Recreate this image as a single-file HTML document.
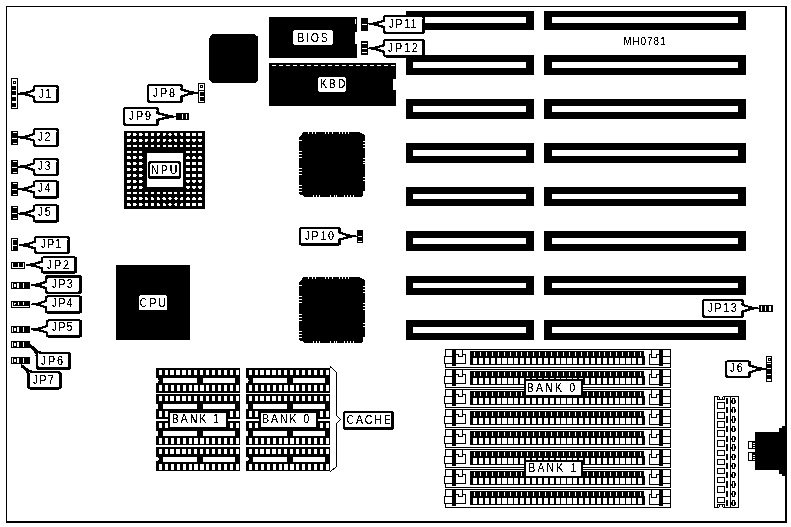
<!DOCTYPE html>
<html><head><meta charset="utf-8"><title>MH0781</title>
<style>
html,body{margin:0;padding:0;background:#fff;}
svg{display:block;font-family:"Liberation Sans",sans-serif;fill:#000;filter:grayscale(1);}
</style></head><body>
<svg width="791" height="527" viewBox="0 0 791 527">
<defs><filter id="bw" x="-5%" y="-20%" width="110%" height="140%" color-interpolation-filters="sRGB"><feComponentTransfer><feFuncA type="discrete" tableValues="0 0 1 1 1"/></feComponentTransfer></filter><filter id="bw2" filterUnits="userSpaceOnUse" x="0" y="0" width="791" height="527" color-interpolation-filters="sRGB"><feComponentTransfer><feFuncR type="discrete" tableValues="0 0 0 1 1"/><feFuncG type="discrete" tableValues="0 0 0 1 1"/><feFuncB type="discrete" tableValues="0 0 0 1 1"/><feFuncA type="discrete" tableValues="0 0 1 1 1"/></feComponentTransfer></filter></defs>
<rect x="0" y="0" width="791" height="527" fill="#fff"/>
<g filter="url(#bw2)">
<g shape-rendering="crispEdges">
<rect x="6" y="6" width="781" height="1" fill="#000" />
<rect x="6" y="6" width="1" height="517" fill="#000" />
<rect x="785" y="6" width="2" height="517" fill="#000" />
<rect x="6" y="521" width="781" height="2" fill="#000" />
<rect x="406" y="11" width="128" height="19" fill="#000" />
<rect x="413" y="17" width="113" height="6" fill="#fff" />
<rect x="544" y="11" width="202" height="19" fill="#000" />
<rect x="552" y="17" width="186" height="6" fill="#fff" />
<rect x="406" y="55" width="128" height="20" fill="#000" />
<rect x="413" y="62" width="113" height="6" fill="#fff" />
<rect x="544" y="55" width="202" height="20" fill="#000" />
<rect x="552" y="62" width="186" height="6" fill="#fff" />
<rect x="406" y="99" width="128" height="20" fill="#000" />
<rect x="413" y="106" width="113" height="6" fill="#fff" />
<rect x="544" y="99" width="202" height="20" fill="#000" />
<rect x="552" y="106" width="186" height="6" fill="#fff" />
<rect x="406" y="143" width="128" height="20" fill="#000" />
<rect x="413" y="150" width="113" height="6" fill="#fff" />
<rect x="544" y="143" width="202" height="20" fill="#000" />
<rect x="552" y="150" width="186" height="6" fill="#fff" />
<rect x="406" y="187" width="128" height="19" fill="#000" />
<rect x="413" y="194" width="113" height="5" fill="#fff" />
<rect x="544" y="187" width="202" height="19" fill="#000" />
<rect x="552" y="194" width="186" height="5" fill="#fff" />
<rect x="406" y="231" width="128" height="20" fill="#000" />
<rect x="413" y="238" width="113" height="6" fill="#fff" />
<rect x="544" y="231" width="202" height="20" fill="#000" />
<rect x="552" y="238" width="186" height="6" fill="#fff" />
<rect x="406" y="276" width="128" height="19" fill="#000" />
<rect x="413" y="283" width="113" height="5" fill="#fff" />
<rect x="544" y="276" width="202" height="19" fill="#000" />
<rect x="552" y="283" width="186" height="5" fill="#fff" />
<rect x="406" y="320" width="128" height="20" fill="#000" />
<rect x="413" y="327" width="113" height="6" fill="#fff" />
<rect x="544" y="320" width="202" height="20" fill="#000" />
<rect x="552" y="327" width="186" height="6" fill="#fff" />
<rect x="269" y="17" width="88" height="41" fill="#000" />
<rect x="355" y="31.5" width="2" height="12" fill="#fff" />
<rect x="355" y="19" width="1" height="5" fill="#fff" />
<rect x="269" y="63" width="127" height="43" fill="#000" />
<rect x="272" y="65" width="4" height="1" fill="#fff" />
<rect x="279" y="65" width="4" height="1" fill="#fff" />
<rect x="286" y="65" width="4" height="1" fill="#fff" />
<rect x="293" y="65" width="4" height="1" fill="#fff" />
<rect x="300" y="65" width="4" height="1" fill="#fff" />
<rect x="307" y="65" width="4" height="1" fill="#fff" />
<rect x="314" y="65" width="4" height="1" fill="#fff" />
<rect x="321" y="65" width="4" height="1" fill="#fff" />
<rect x="328" y="65" width="4" height="1" fill="#fff" />
<rect x="335" y="65" width="4" height="1" fill="#fff" />
<rect x="342" y="65" width="4" height="1" fill="#fff" />
<rect x="349" y="65" width="4" height="1" fill="#fff" />
<rect x="356" y="65" width="4" height="1" fill="#fff" />
<rect x="363" y="65" width="4" height="1" fill="#fff" />
<rect x="370" y="65" width="4" height="1" fill="#fff" />
<rect x="377" y="65" width="4" height="1" fill="#fff" />
<rect x="384" y="65" width="4" height="1" fill="#fff" />
<rect x="391" y="65" width="4" height="1" fill="#fff" />
</g>
<path d="M396.5 78.5 h-1.5 a2 2 0 0 0 -2 2 v8 a2 2 0 0 0 2 2 h1.5 z" fill="#fff"/>
<polygon points="212,34 254.5,34 258,37 258,80 255,83 212,83 209,79 209,38.5" fill="#000" />
<g shape-rendering="crispEdges">
<rect x="116" y="265" width="74" height="75" fill="#000" />
</g>
<polygon points="303,132 359,132 362.6,134 365,135.2 365,191 363,191 363,195 362,197 305,197 302,194.7 299,194.2 299,138 302,134.2" fill="#000" />
<g shape-rendering="crispEdges">
<rect x="308" y="132" width="1" height="2" fill="#fff" />
<rect x="311.5" y="132" width="1" height="2" fill="#fff" />
<rect x="314.6" y="132" width="1" height="2" fill="#fff" />
<rect x="325.2" y="132" width="1" height="2" fill="#fff" />
<rect x="328.4" y="132" width="1" height="2" fill="#fff" />
<rect x="331.8" y="132" width="1" height="2" fill="#fff" />
<rect x="339.3" y="132" width="1" height="2" fill="#fff" />
<rect x="342.4" y="132" width="1" height="2" fill="#fff" />
<rect x="345.4" y="132" width="1" height="2" fill="#fff" />
<rect x="348.4" y="132" width="1" height="2" fill="#fff" />
<rect x="313.3" y="195" width="1" height="2" fill="#fff" />
<rect x="316.4" y="195" width="1" height="2" fill="#fff" />
<rect x="319.3" y="195" width="1" height="2" fill="#fff" />
<rect x="330.4" y="195" width="1" height="2" fill="#fff" />
<rect x="333.5" y="195" width="1" height="2" fill="#fff" />
<rect x="336.3" y="195" width="1" height="2" fill="#fff" />
<rect x="344.4" y="195" width="1" height="2" fill="#fff" />
<rect x="347.4" y="195" width="1" height="2" fill="#fff" />
<rect x="350.4" y="195" width="1" height="2" fill="#fff" />
<rect x="353.3" y="195" width="1" height="2" fill="#fff" />
<rect x="299" y="140.3" width="3" height="1" fill="#fff" />
<rect x="299" y="150.9" width="3" height="1" fill="#fff" />
<rect x="299" y="153.9" width="3" height="1" fill="#fff" />
<rect x="299" y="156.9" width="3" height="1" fill="#fff" />
<rect x="299" y="168.2" width="3" height="1" fill="#fff" />
<rect x="299" y="171.2" width="3" height="1" fill="#fff" />
<rect x="299" y="174.2" width="3" height="1" fill="#fff" />
<rect x="299" y="185.1" width="3" height="1" fill="#fff" />
<rect x="299" y="188.1" width="3" height="1" fill="#fff" />
<rect x="299" y="191.1" width="3" height="1" fill="#fff" />
<rect x="362.6" y="140.8" width="2.4" height="1" fill="#fff" />
<rect x="362.6" y="143.8" width="2.4" height="1" fill="#fff" />
<rect x="362.6" y="146.5" width="2.4" height="1" fill="#fff" />
<rect x="362.6" y="157.5" width="2.4" height="1" fill="#fff" />
<rect x="362.6" y="160.5" width="2.4" height="1" fill="#fff" />
<rect x="362.6" y="163.3" width="2.4" height="1" fill="#fff" />
<rect x="362.6" y="177.3" width="2.4" height="1" fill="#fff" />
<rect x="362.6" y="180.2" width="2.4" height="1" fill="#fff" />
</g>
<polygon points="303,277 359,277 362.6,279 365,280.2 365,337 363,337 363,341 362,343 305,343 302,340.7 299,340.2 299,283 302,279.2" fill="#000" />
<g shape-rendering="crispEdges">
<rect x="308" y="277" width="1" height="2" fill="#fff" />
<rect x="311.5" y="277" width="1" height="2" fill="#fff" />
<rect x="314.6" y="277" width="1" height="2" fill="#fff" />
<rect x="325.2" y="277" width="1" height="2" fill="#fff" />
<rect x="328.4" y="277" width="1" height="2" fill="#fff" />
<rect x="331.8" y="277" width="1" height="2" fill="#fff" />
<rect x="339.3" y="277" width="1" height="2" fill="#fff" />
<rect x="342.4" y="277" width="1" height="2" fill="#fff" />
<rect x="345.4" y="277" width="1" height="2" fill="#fff" />
<rect x="348.4" y="277" width="1" height="2" fill="#fff" />
<rect x="313.3" y="341" width="1" height="2" fill="#fff" />
<rect x="316.4" y="341" width="1" height="2" fill="#fff" />
<rect x="319.3" y="341" width="1" height="2" fill="#fff" />
<rect x="330.4" y="341" width="1" height="2" fill="#fff" />
<rect x="333.5" y="341" width="1" height="2" fill="#fff" />
<rect x="336.3" y="341" width="1" height="2" fill="#fff" />
<rect x="344.4" y="341" width="1" height="2" fill="#fff" />
<rect x="347.4" y="341" width="1" height="2" fill="#fff" />
<rect x="350.4" y="341" width="1" height="2" fill="#fff" />
<rect x="353.3" y="341" width="1" height="2" fill="#fff" />
<rect x="299" y="285.428" width="3" height="1" fill="#fff" />
<rect x="299" y="296.191" width="3" height="1" fill="#fff" />
<rect x="299" y="299.237" width="3" height="1" fill="#fff" />
<rect x="299" y="302.283" width="3" height="1" fill="#fff" />
<rect x="299" y="313.757" width="3" height="1" fill="#fff" />
<rect x="299" y="316.803" width="3" height="1" fill="#fff" />
<rect x="299" y="319.849" width="3" height="1" fill="#fff" />
<rect x="299" y="330.917" width="3" height="1" fill="#fff" />
<rect x="299" y="333.963" width="3" height="1" fill="#fff" />
<rect x="299" y="337.009" width="3" height="1" fill="#fff" />
<rect x="362.6" y="285.935" width="2.4" height="1" fill="#fff" />
<rect x="362.6" y="288.982" width="2.4" height="1" fill="#fff" />
<rect x="362.6" y="291.723" width="2.4" height="1" fill="#fff" />
<rect x="362.6" y="302.892" width="2.4" height="1" fill="#fff" />
<rect x="362.6" y="305.938" width="2.4" height="1" fill="#fff" />
<rect x="362.6" y="308.782" width="2.4" height="1" fill="#fff" />
<rect x="362.6" y="322.997" width="2.4" height="1" fill="#fff" />
<rect x="362.6" y="325.942" width="2.4" height="1" fill="#fff" />
</g>
<g shape-rendering="crispEdges">
<rect x="124" y="131" width="81" height="78" fill="#000" />
<rect x="147" y="153" width="35.5" height="34" fill="#fff" />
</g>
<g fill="#fff">
<rect x="126.85" y="132.80" width="3.9" height="3.1" rx="1"/>
<rect x="132.78" y="132.80" width="3.9" height="3.1" rx="1"/>
<rect x="138.71" y="132.80" width="3.9" height="3.1" rx="1"/>
<rect x="144.64" y="132.80" width="3.3" height="3.1" rx="1"/>
<rect x="150.57" y="132.80" width="3.3" height="3.1" rx="1"/>
<rect x="156.50" y="132.80" width="3.3" height="3.1" rx="1"/>
<rect x="162.43" y="132.80" width="3.3" height="3.1" rx="1"/>
<rect x="168.36" y="132.80" width="3.3" height="3.1" rx="1"/>
<rect x="174.29" y="132.80" width="3.3" height="3.1" rx="1"/>
<rect x="180.22" y="132.80" width="3.3" height="3.1" rx="1"/>
<rect x="186.15" y="132.80" width="3.9" height="3.1" rx="1"/>
<rect x="192.08" y="132.80" width="3.9" height="3.1" rx="1"/>
<rect x="198.01" y="132.80" width="3.9" height="3.1" rx="1"/>
<rect x="126.85" y="138.66" width="3.9" height="3.1" rx="1"/>
<rect x="132.78" y="138.66" width="3.9" height="3.1" rx="1"/>
<rect x="138.71" y="138.66" width="3.9" height="3.1" rx="1"/>
<rect x="144.64" y="138.66" width="3.3" height="3.1" rx="1"/>
<rect x="150.57" y="138.66" width="3.3" height="3.1" rx="1"/>
<rect x="156.50" y="138.66" width="3.3" height="3.1" rx="1"/>
<rect x="162.43" y="138.66" width="3.3" height="3.1" rx="1"/>
<rect x="168.36" y="138.66" width="3.3" height="3.1" rx="1"/>
<rect x="174.29" y="138.66" width="3.3" height="3.1" rx="1"/>
<rect x="180.22" y="138.66" width="3.3" height="3.1" rx="1"/>
<rect x="186.15" y="138.66" width="3.9" height="3.1" rx="1"/>
<rect x="192.08" y="138.66" width="3.9" height="3.1" rx="1"/>
<rect x="198.01" y="138.66" width="3.9" height="3.1" rx="1"/>
<rect x="126.85" y="144.52" width="3.9" height="3.1" rx="1"/>
<rect x="132.78" y="144.52" width="3.9" height="3.1" rx="1"/>
<rect x="138.71" y="144.52" width="3.9" height="3.1" rx="1"/>
<rect x="144.64" y="144.52" width="3.3" height="3.1" rx="1"/>
<rect x="150.57" y="144.52" width="3.3" height="3.1" rx="1"/>
<rect x="156.50" y="144.52" width="3.3" height="3.1" rx="1"/>
<rect x="162.43" y="144.52" width="3.3" height="3.1" rx="1"/>
<rect x="168.36" y="144.52" width="3.3" height="3.1" rx="1"/>
<rect x="174.29" y="144.52" width="3.3" height="3.1" rx="1"/>
<rect x="180.22" y="144.52" width="3.3" height="3.1" rx="1"/>
<rect x="186.15" y="144.52" width="3.9" height="3.1" rx="1"/>
<rect x="192.08" y="144.52" width="3.9" height="3.1" rx="1"/>
<rect x="198.01" y="144.52" width="3.9" height="3.1" rx="1"/>
<rect x="126.85" y="150.38" width="3.9" height="3.1" rx="1"/>
<rect x="132.78" y="150.38" width="3.9" height="3.1" rx="1"/>
<rect x="138.71" y="150.38" width="3.9" height="3.1" rx="1"/>
<rect x="186.15" y="150.38" width="3.9" height="3.1" rx="1"/>
<rect x="192.08" y="150.38" width="3.9" height="3.1" rx="1"/>
<rect x="198.01" y="150.38" width="3.9" height="3.1" rx="1"/>
<rect x="126.85" y="156.24" width="3.9" height="3.1" rx="1"/>
<rect x="132.78" y="156.24" width="3.9" height="3.1" rx="1"/>
<rect x="138.71" y="156.24" width="3.9" height="3.1" rx="1"/>
<rect x="186.15" y="156.24" width="3.9" height="3.1" rx="1"/>
<rect x="192.08" y="156.24" width="3.9" height="3.1" rx="1"/>
<rect x="198.01" y="156.24" width="3.9" height="3.1" rx="1"/>
<rect x="126.85" y="162.10" width="3.9" height="3.1" rx="1"/>
<rect x="132.78" y="162.10" width="3.9" height="3.1" rx="1"/>
<rect x="138.71" y="162.10" width="3.9" height="3.1" rx="1"/>
<rect x="186.15" y="162.10" width="3.9" height="3.1" rx="1"/>
<rect x="192.08" y="162.10" width="3.9" height="3.1" rx="1"/>
<rect x="198.01" y="162.10" width="3.9" height="3.1" rx="1"/>
<rect x="126.85" y="167.96" width="3.9" height="3.1" rx="1"/>
<rect x="132.78" y="167.96" width="3.9" height="3.1" rx="1"/>
<rect x="138.71" y="167.96" width="3.9" height="3.1" rx="1"/>
<rect x="186.15" y="167.96" width="3.9" height="3.1" rx="1"/>
<rect x="192.08" y="167.96" width="3.9" height="3.1" rx="1"/>
<rect x="198.01" y="167.96" width="3.9" height="3.1" rx="1"/>
<rect x="126.85" y="173.82" width="3.9" height="3.1" rx="1"/>
<rect x="132.78" y="173.82" width="3.9" height="3.1" rx="1"/>
<rect x="138.71" y="173.82" width="3.9" height="3.1" rx="1"/>
<rect x="186.15" y="173.82" width="3.9" height="3.1" rx="1"/>
<rect x="192.08" y="173.82" width="3.9" height="3.1" rx="1"/>
<rect x="198.01" y="173.82" width="3.9" height="3.1" rx="1"/>
<rect x="126.85" y="179.68" width="3.9" height="3.1" rx="1"/>
<rect x="132.78" y="179.68" width="3.9" height="3.1" rx="1"/>
<rect x="138.71" y="179.68" width="3.9" height="3.1" rx="1"/>
<rect x="186.15" y="179.68" width="3.9" height="3.1" rx="1"/>
<rect x="192.08" y="179.68" width="3.9" height="3.1" rx="1"/>
<rect x="198.01" y="179.68" width="3.9" height="3.1" rx="1"/>
<rect x="126.85" y="185.54" width="3.9" height="3.1" rx="1"/>
<rect x="132.78" y="185.54" width="3.9" height="3.1" rx="1"/>
<rect x="138.71" y="185.54" width="3.9" height="3.1" rx="1"/>
<rect x="186.15" y="185.54" width="3.9" height="3.1" rx="1"/>
<rect x="192.08" y="185.54" width="3.9" height="3.1" rx="1"/>
<rect x="198.01" y="185.54" width="3.9" height="3.1" rx="1"/>
<rect x="126.85" y="191.40" width="3.9" height="3.1" rx="1"/>
<rect x="132.78" y="191.40" width="3.9" height="3.1" rx="1"/>
<rect x="138.71" y="191.40" width="3.9" height="3.1" rx="1"/>
<rect x="144.64" y="191.40" width="3.3" height="3.1" rx="1"/>
<rect x="150.57" y="191.40" width="3.3" height="3.1" rx="1"/>
<rect x="156.50" y="191.40" width="3.3" height="3.1" rx="1"/>
<rect x="162.43" y="191.40" width="3.3" height="3.1" rx="1"/>
<rect x="168.36" y="191.40" width="3.3" height="3.1" rx="1"/>
<rect x="174.29" y="191.40" width="3.3" height="3.1" rx="1"/>
<rect x="180.22" y="191.40" width="3.3" height="3.1" rx="1"/>
<rect x="186.15" y="191.40" width="3.9" height="3.1" rx="1"/>
<rect x="192.08" y="191.40" width="3.9" height="3.1" rx="1"/>
<rect x="198.01" y="191.40" width="3.9" height="3.1" rx="1"/>
<rect x="126.85" y="197.26" width="3.9" height="3.1" rx="1"/>
<rect x="132.78" y="197.26" width="3.9" height="3.1" rx="1"/>
<rect x="138.71" y="197.26" width="3.9" height="3.1" rx="1"/>
<rect x="144.64" y="197.26" width="3.3" height="3.1" rx="1"/>
<rect x="150.57" y="197.26" width="3.3" height="3.1" rx="1"/>
<rect x="156.50" y="197.26" width="3.3" height="3.1" rx="1"/>
<rect x="162.43" y="197.26" width="3.3" height="3.1" rx="1"/>
<rect x="168.36" y="197.26" width="3.3" height="3.1" rx="1"/>
<rect x="174.29" y="197.26" width="3.3" height="3.1" rx="1"/>
<rect x="180.22" y="197.26" width="3.3" height="3.1" rx="1"/>
<rect x="186.15" y="197.26" width="3.9" height="3.1" rx="1"/>
<rect x="192.08" y="197.26" width="3.9" height="3.1" rx="1"/>
<rect x="198.01" y="197.26" width="3.9" height="3.1" rx="1"/>
<rect x="126.85" y="203.12" width="3.9" height="3.1" rx="1"/>
<rect x="132.78" y="203.12" width="3.9" height="3.1" rx="1"/>
<rect x="138.71" y="203.12" width="3.9" height="3.1" rx="1"/>
<rect x="144.64" y="203.12" width="3.3" height="3.1" rx="1"/>
<rect x="150.57" y="203.12" width="3.3" height="3.1" rx="1"/>
<rect x="156.50" y="203.12" width="3.3" height="3.1" rx="1"/>
<rect x="162.43" y="203.12" width="3.3" height="3.1" rx="1"/>
<rect x="168.36" y="203.12" width="3.3" height="3.1" rx="1"/>
<rect x="174.29" y="203.12" width="3.3" height="3.1" rx="1"/>
<rect x="180.22" y="203.12" width="3.3" height="3.1" rx="1"/>
<rect x="186.15" y="203.12" width="3.9" height="3.1" rx="1"/>
<rect x="192.08" y="203.12" width="3.9" height="3.1" rx="1"/>
<rect x="198.01" y="203.12" width="3.9" height="3.1" rx="1"/>
</g>
<g shape-rendering="crispEdges">
<rect x="156" y="368" width="84" height="24.7" fill="#000" />
<rect x="158.6" y="370" width="3.2" height="5" fill="#fff" />
<rect x="158.9" y="385" width="3.1" height="6" fill="#fff" />
<rect x="164.53" y="370" width="3.2" height="5" fill="#fff" />
<rect x="164.83" y="385" width="3.1" height="6" fill="#fff" />
<rect x="170.46" y="370" width="3.2" height="5" fill="#fff" />
<rect x="170.76" y="385" width="3.1" height="6" fill="#fff" />
<rect x="176.39" y="370" width="3.2" height="5" fill="#fff" />
<rect x="176.69" y="385" width="3.1" height="6" fill="#fff" />
<rect x="182.32" y="370" width="3.2" height="5" fill="#fff" />
<rect x="182.62" y="385" width="3.1" height="6" fill="#fff" />
<rect x="188.25" y="370" width="3.2" height="5" fill="#fff" />
<rect x="188.55" y="385" width="3.1" height="6" fill="#fff" />
<rect x="194.18" y="370" width="3.2" height="5" fill="#fff" />
<rect x="194.48" y="385" width="3.1" height="6" fill="#fff" />
<rect x="200.11" y="370" width="3.2" height="5" fill="#fff" />
<rect x="200.41" y="385" width="3.1" height="6" fill="#fff" />
<rect x="206.04" y="370" width="3.2" height="5" fill="#fff" />
<rect x="206.34" y="385" width="3.1" height="6" fill="#fff" />
<rect x="211.97" y="370" width="3.2" height="5" fill="#fff" />
<rect x="212.27" y="385" width="3.1" height="6" fill="#fff" />
<rect x="217.9" y="370" width="3.2" height="5" fill="#fff" />
<rect x="218.2" y="385" width="3.1" height="6" fill="#fff" />
<rect x="223.83" y="370" width="3.2" height="5" fill="#fff" />
<rect x="224.13" y="385" width="3.1" height="6" fill="#fff" />
<rect x="229.76" y="370" width="3.2" height="5" fill="#fff" />
<rect x="230.06" y="385" width="3.1" height="6" fill="#fff" />
<rect x="235.69" y="370" width="3.2" height="5" fill="#fff" />
<rect x="235.99" y="385" width="3.1" height="6" fill="#fff" />
<rect x="163" y="378" width="34" height="5" fill="#fff" />
<rect x="203" y="378" width="32" height="5" fill="#fff" />
</g>
<path d="M155.8 378 h1.5 a1.3 1.3 0 0 1 1.3 1.3 v2.4 a1.3 1.3 0 0 1 -1.3 1.3 h-1.5 z" fill="#fff"/>
<g shape-rendering="crispEdges">
<rect x="156" y="394.3" width="84" height="24.7" fill="#000" />
<rect x="158.6" y="396.3" width="3.2" height="5" fill="#fff" />
<rect x="158.9" y="411.3" width="3.1" height="6" fill="#fff" />
<rect x="164.53" y="396.3" width="3.2" height="5" fill="#fff" />
<rect x="164.83" y="411.3" width="3.1" height="6" fill="#fff" />
<rect x="170.46" y="396.3" width="3.2" height="5" fill="#fff" />
<rect x="170.76" y="411.3" width="3.1" height="6" fill="#fff" />
<rect x="176.39" y="396.3" width="3.2" height="5" fill="#fff" />
<rect x="176.69" y="411.3" width="3.1" height="6" fill="#fff" />
<rect x="182.32" y="396.3" width="3.2" height="5" fill="#fff" />
<rect x="182.62" y="411.3" width="3.1" height="6" fill="#fff" />
<rect x="188.25" y="396.3" width="3.2" height="5" fill="#fff" />
<rect x="188.55" y="411.3" width="3.1" height="6" fill="#fff" />
<rect x="194.18" y="396.3" width="3.2" height="5" fill="#fff" />
<rect x="194.48" y="411.3" width="3.1" height="6" fill="#fff" />
<rect x="200.11" y="396.3" width="3.2" height="5" fill="#fff" />
<rect x="200.41" y="411.3" width="3.1" height="6" fill="#fff" />
<rect x="206.04" y="396.3" width="3.2" height="5" fill="#fff" />
<rect x="206.34" y="411.3" width="3.1" height="6" fill="#fff" />
<rect x="211.97" y="396.3" width="3.2" height="5" fill="#fff" />
<rect x="212.27" y="411.3" width="3.1" height="6" fill="#fff" />
<rect x="217.9" y="396.3" width="3.2" height="5" fill="#fff" />
<rect x="218.2" y="411.3" width="3.1" height="6" fill="#fff" />
<rect x="223.83" y="396.3" width="3.2" height="5" fill="#fff" />
<rect x="224.13" y="411.3" width="3.1" height="6" fill="#fff" />
<rect x="229.76" y="396.3" width="3.2" height="5" fill="#fff" />
<rect x="230.06" y="411.3" width="3.1" height="6" fill="#fff" />
<rect x="235.69" y="396.3" width="3.2" height="5" fill="#fff" />
<rect x="235.99" y="411.3" width="3.1" height="6" fill="#fff" />
<rect x="163" y="404.3" width="34" height="5" fill="#fff" />
<rect x="203" y="404.3" width="32" height="5" fill="#fff" />
</g>
<path d="M155.8 404.3 h1.5 a1.3 1.3 0 0 1 1.3 1.3 v2.4 a1.3 1.3 0 0 1 -1.3 1.3 h-1.5 z" fill="#fff"/>
<g shape-rendering="crispEdges">
<rect x="156" y="420.7" width="84" height="24.7" fill="#000" />
<rect x="158.6" y="422.7" width="3.2" height="5" fill="#fff" />
<rect x="158.9" y="437.7" width="3.1" height="6" fill="#fff" />
<rect x="164.53" y="422.7" width="3.2" height="5" fill="#fff" />
<rect x="164.83" y="437.7" width="3.1" height="6" fill="#fff" />
<rect x="170.46" y="422.7" width="3.2" height="5" fill="#fff" />
<rect x="170.76" y="437.7" width="3.1" height="6" fill="#fff" />
<rect x="176.39" y="422.7" width="3.2" height="5" fill="#fff" />
<rect x="176.69" y="437.7" width="3.1" height="6" fill="#fff" />
<rect x="182.32" y="422.7" width="3.2" height="5" fill="#fff" />
<rect x="182.62" y="437.7" width="3.1" height="6" fill="#fff" />
<rect x="188.25" y="422.7" width="3.2" height="5" fill="#fff" />
<rect x="188.55" y="437.7" width="3.1" height="6" fill="#fff" />
<rect x="194.18" y="422.7" width="3.2" height="5" fill="#fff" />
<rect x="194.48" y="437.7" width="3.1" height="6" fill="#fff" />
<rect x="200.11" y="422.7" width="3.2" height="5" fill="#fff" />
<rect x="200.41" y="437.7" width="3.1" height="6" fill="#fff" />
<rect x="206.04" y="422.7" width="3.2" height="5" fill="#fff" />
<rect x="206.34" y="437.7" width="3.1" height="6" fill="#fff" />
<rect x="211.97" y="422.7" width="3.2" height="5" fill="#fff" />
<rect x="212.27" y="437.7" width="3.1" height="6" fill="#fff" />
<rect x="217.9" y="422.7" width="3.2" height="5" fill="#fff" />
<rect x="218.2" y="437.7" width="3.1" height="6" fill="#fff" />
<rect x="223.83" y="422.7" width="3.2" height="5" fill="#fff" />
<rect x="224.13" y="437.7" width="3.1" height="6" fill="#fff" />
<rect x="229.76" y="422.7" width="3.2" height="5" fill="#fff" />
<rect x="230.06" y="437.7" width="3.1" height="6" fill="#fff" />
<rect x="235.69" y="422.7" width="3.2" height="5" fill="#fff" />
<rect x="235.99" y="437.7" width="3.1" height="6" fill="#fff" />
<rect x="163" y="430.7" width="34" height="5" fill="#fff" />
<rect x="203" y="430.7" width="32" height="5" fill="#fff" />
</g>
<path d="M155.8 430.7 h1.5 a1.3 1.3 0 0 1 1.3 1.3 v2.4 a1.3 1.3 0 0 1 -1.3 1.3 h-1.5 z" fill="#fff"/>
<g shape-rendering="crispEdges">
<rect x="156" y="446.6" width="84" height="24.7" fill="#000" />
<rect x="158.6" y="448.6" width="3.2" height="5" fill="#fff" />
<rect x="158.9" y="463.6" width="3.1" height="6" fill="#fff" />
<rect x="164.53" y="448.6" width="3.2" height="5" fill="#fff" />
<rect x="164.83" y="463.6" width="3.1" height="6" fill="#fff" />
<rect x="170.46" y="448.6" width="3.2" height="5" fill="#fff" />
<rect x="170.76" y="463.6" width="3.1" height="6" fill="#fff" />
<rect x="176.39" y="448.6" width="3.2" height="5" fill="#fff" />
<rect x="176.69" y="463.6" width="3.1" height="6" fill="#fff" />
<rect x="182.32" y="448.6" width="3.2" height="5" fill="#fff" />
<rect x="182.62" y="463.6" width="3.1" height="6" fill="#fff" />
<rect x="188.25" y="448.6" width="3.2" height="5" fill="#fff" />
<rect x="188.55" y="463.6" width="3.1" height="6" fill="#fff" />
<rect x="194.18" y="448.6" width="3.2" height="5" fill="#fff" />
<rect x="194.48" y="463.6" width="3.1" height="6" fill="#fff" />
<rect x="200.11" y="448.6" width="3.2" height="5" fill="#fff" />
<rect x="200.41" y="463.6" width="3.1" height="6" fill="#fff" />
<rect x="206.04" y="448.6" width="3.2" height="5" fill="#fff" />
<rect x="206.34" y="463.6" width="3.1" height="6" fill="#fff" />
<rect x="211.97" y="448.6" width="3.2" height="5" fill="#fff" />
<rect x="212.27" y="463.6" width="3.1" height="6" fill="#fff" />
<rect x="217.9" y="448.6" width="3.2" height="5" fill="#fff" />
<rect x="218.2" y="463.6" width="3.1" height="6" fill="#fff" />
<rect x="223.83" y="448.6" width="3.2" height="5" fill="#fff" />
<rect x="224.13" y="463.6" width="3.1" height="6" fill="#fff" />
<rect x="229.76" y="448.6" width="3.2" height="5" fill="#fff" />
<rect x="230.06" y="463.6" width="3.1" height="6" fill="#fff" />
<rect x="235.69" y="448.6" width="3.2" height="5" fill="#fff" />
<rect x="235.99" y="463.6" width="3.1" height="6" fill="#fff" />
<rect x="163" y="456.6" width="34" height="5" fill="#fff" />
<rect x="203" y="456.6" width="32" height="5" fill="#fff" />
</g>
<path d="M155.8 456.6 h1.5 a1.3 1.3 0 0 1 1.3 1.3 v2.4 a1.3 1.3 0 0 1 -1.3 1.3 h-1.5 z" fill="#fff"/>
<g shape-rendering="crispEdges">
<rect x="246" y="368" width="84" height="24.7" fill="#000" />
<rect x="248.6" y="370" width="3.2" height="5" fill="#fff" />
<rect x="248.9" y="385" width="3.1" height="6" fill="#fff" />
<rect x="254.53" y="370" width="3.2" height="5" fill="#fff" />
<rect x="254.83" y="385" width="3.1" height="6" fill="#fff" />
<rect x="260.46" y="370" width="3.2" height="5" fill="#fff" />
<rect x="260.76" y="385" width="3.1" height="6" fill="#fff" />
<rect x="266.39" y="370" width="3.2" height="5" fill="#fff" />
<rect x="266.69" y="385" width="3.1" height="6" fill="#fff" />
<rect x="272.32" y="370" width="3.2" height="5" fill="#fff" />
<rect x="272.62" y="385" width="3.1" height="6" fill="#fff" />
<rect x="278.25" y="370" width="3.2" height="5" fill="#fff" />
<rect x="278.55" y="385" width="3.1" height="6" fill="#fff" />
<rect x="284.18" y="370" width="3.2" height="5" fill="#fff" />
<rect x="284.48" y="385" width="3.1" height="6" fill="#fff" />
<rect x="290.11" y="370" width="3.2" height="5" fill="#fff" />
<rect x="290.41" y="385" width="3.1" height="6" fill="#fff" />
<rect x="296.04" y="370" width="3.2" height="5" fill="#fff" />
<rect x="296.34" y="385" width="3.1" height="6" fill="#fff" />
<rect x="301.97" y="370" width="3.2" height="5" fill="#fff" />
<rect x="302.27" y="385" width="3.1" height="6" fill="#fff" />
<rect x="307.9" y="370" width="3.2" height="5" fill="#fff" />
<rect x="308.2" y="385" width="3.1" height="6" fill="#fff" />
<rect x="313.83" y="370" width="3.2" height="5" fill="#fff" />
<rect x="314.13" y="385" width="3.1" height="6" fill="#fff" />
<rect x="319.76" y="370" width="3.2" height="5" fill="#fff" />
<rect x="320.06" y="385" width="3.1" height="6" fill="#fff" />
<rect x="325.69" y="370" width="3.2" height="5" fill="#fff" />
<rect x="325.99" y="385" width="3.1" height="6" fill="#fff" />
<rect x="253" y="378" width="34" height="5" fill="#fff" />
<rect x="293" y="378" width="32" height="5" fill="#fff" />
</g>
<path d="M245.8 378 h1.5 a1.3 1.3 0 0 1 1.3 1.3 v2.4 a1.3 1.3 0 0 1 -1.3 1.3 h-1.5 z" fill="#fff"/>
<g shape-rendering="crispEdges">
<rect x="246" y="394.3" width="84" height="24.7" fill="#000" />
<rect x="248.6" y="396.3" width="3.2" height="5" fill="#fff" />
<rect x="248.9" y="411.3" width="3.1" height="6" fill="#fff" />
<rect x="254.53" y="396.3" width="3.2" height="5" fill="#fff" />
<rect x="254.83" y="411.3" width="3.1" height="6" fill="#fff" />
<rect x="260.46" y="396.3" width="3.2" height="5" fill="#fff" />
<rect x="260.76" y="411.3" width="3.1" height="6" fill="#fff" />
<rect x="266.39" y="396.3" width="3.2" height="5" fill="#fff" />
<rect x="266.69" y="411.3" width="3.1" height="6" fill="#fff" />
<rect x="272.32" y="396.3" width="3.2" height="5" fill="#fff" />
<rect x="272.62" y="411.3" width="3.1" height="6" fill="#fff" />
<rect x="278.25" y="396.3" width="3.2" height="5" fill="#fff" />
<rect x="278.55" y="411.3" width="3.1" height="6" fill="#fff" />
<rect x="284.18" y="396.3" width="3.2" height="5" fill="#fff" />
<rect x="284.48" y="411.3" width="3.1" height="6" fill="#fff" />
<rect x="290.11" y="396.3" width="3.2" height="5" fill="#fff" />
<rect x="290.41" y="411.3" width="3.1" height="6" fill="#fff" />
<rect x="296.04" y="396.3" width="3.2" height="5" fill="#fff" />
<rect x="296.34" y="411.3" width="3.1" height="6" fill="#fff" />
<rect x="301.97" y="396.3" width="3.2" height="5" fill="#fff" />
<rect x="302.27" y="411.3" width="3.1" height="6" fill="#fff" />
<rect x="307.9" y="396.3" width="3.2" height="5" fill="#fff" />
<rect x="308.2" y="411.3" width="3.1" height="6" fill="#fff" />
<rect x="313.83" y="396.3" width="3.2" height="5" fill="#fff" />
<rect x="314.13" y="411.3" width="3.1" height="6" fill="#fff" />
<rect x="319.76" y="396.3" width="3.2" height="5" fill="#fff" />
<rect x="320.06" y="411.3" width="3.1" height="6" fill="#fff" />
<rect x="325.69" y="396.3" width="3.2" height="5" fill="#fff" />
<rect x="325.99" y="411.3" width="3.1" height="6" fill="#fff" />
<rect x="253" y="404.3" width="34" height="5" fill="#fff" />
<rect x="293" y="404.3" width="32" height="5" fill="#fff" />
</g>
<path d="M245.8 404.3 h1.5 a1.3 1.3 0 0 1 1.3 1.3 v2.4 a1.3 1.3 0 0 1 -1.3 1.3 h-1.5 z" fill="#fff"/>
<g shape-rendering="crispEdges">
<rect x="246" y="420.7" width="84" height="24.7" fill="#000" />
<rect x="248.6" y="422.7" width="3.2" height="5" fill="#fff" />
<rect x="248.9" y="437.7" width="3.1" height="6" fill="#fff" />
<rect x="254.53" y="422.7" width="3.2" height="5" fill="#fff" />
<rect x="254.83" y="437.7" width="3.1" height="6" fill="#fff" />
<rect x="260.46" y="422.7" width="3.2" height="5" fill="#fff" />
<rect x="260.76" y="437.7" width="3.1" height="6" fill="#fff" />
<rect x="266.39" y="422.7" width="3.2" height="5" fill="#fff" />
<rect x="266.69" y="437.7" width="3.1" height="6" fill="#fff" />
<rect x="272.32" y="422.7" width="3.2" height="5" fill="#fff" />
<rect x="272.62" y="437.7" width="3.1" height="6" fill="#fff" />
<rect x="278.25" y="422.7" width="3.2" height="5" fill="#fff" />
<rect x="278.55" y="437.7" width="3.1" height="6" fill="#fff" />
<rect x="284.18" y="422.7" width="3.2" height="5" fill="#fff" />
<rect x="284.48" y="437.7" width="3.1" height="6" fill="#fff" />
<rect x="290.11" y="422.7" width="3.2" height="5" fill="#fff" />
<rect x="290.41" y="437.7" width="3.1" height="6" fill="#fff" />
<rect x="296.04" y="422.7" width="3.2" height="5" fill="#fff" />
<rect x="296.34" y="437.7" width="3.1" height="6" fill="#fff" />
<rect x="301.97" y="422.7" width="3.2" height="5" fill="#fff" />
<rect x="302.27" y="437.7" width="3.1" height="6" fill="#fff" />
<rect x="307.9" y="422.7" width="3.2" height="5" fill="#fff" />
<rect x="308.2" y="437.7" width="3.1" height="6" fill="#fff" />
<rect x="313.83" y="422.7" width="3.2" height="5" fill="#fff" />
<rect x="314.13" y="437.7" width="3.1" height="6" fill="#fff" />
<rect x="319.76" y="422.7" width="3.2" height="5" fill="#fff" />
<rect x="320.06" y="437.7" width="3.1" height="6" fill="#fff" />
<rect x="325.69" y="422.7" width="3.2" height="5" fill="#fff" />
<rect x="325.99" y="437.7" width="3.1" height="6" fill="#fff" />
<rect x="253" y="430.7" width="34" height="5" fill="#fff" />
<rect x="293" y="430.7" width="32" height="5" fill="#fff" />
</g>
<path d="M245.8 430.7 h1.5 a1.3 1.3 0 0 1 1.3 1.3 v2.4 a1.3 1.3 0 0 1 -1.3 1.3 h-1.5 z" fill="#fff"/>
<g shape-rendering="crispEdges">
<rect x="246" y="446.6" width="84" height="24.7" fill="#000" />
<rect x="248.6" y="448.6" width="3.2" height="5" fill="#fff" />
<rect x="248.9" y="463.6" width="3.1" height="6" fill="#fff" />
<rect x="254.53" y="448.6" width="3.2" height="5" fill="#fff" />
<rect x="254.83" y="463.6" width="3.1" height="6" fill="#fff" />
<rect x="260.46" y="448.6" width="3.2" height="5" fill="#fff" />
<rect x="260.76" y="463.6" width="3.1" height="6" fill="#fff" />
<rect x="266.39" y="448.6" width="3.2" height="5" fill="#fff" />
<rect x="266.69" y="463.6" width="3.1" height="6" fill="#fff" />
<rect x="272.32" y="448.6" width="3.2" height="5" fill="#fff" />
<rect x="272.62" y="463.6" width="3.1" height="6" fill="#fff" />
<rect x="278.25" y="448.6" width="3.2" height="5" fill="#fff" />
<rect x="278.55" y="463.6" width="3.1" height="6" fill="#fff" />
<rect x="284.18" y="448.6" width="3.2" height="5" fill="#fff" />
<rect x="284.48" y="463.6" width="3.1" height="6" fill="#fff" />
<rect x="290.11" y="448.6" width="3.2" height="5" fill="#fff" />
<rect x="290.41" y="463.6" width="3.1" height="6" fill="#fff" />
<rect x="296.04" y="448.6" width="3.2" height="5" fill="#fff" />
<rect x="296.34" y="463.6" width="3.1" height="6" fill="#fff" />
<rect x="301.97" y="448.6" width="3.2" height="5" fill="#fff" />
<rect x="302.27" y="463.6" width="3.1" height="6" fill="#fff" />
<rect x="307.9" y="448.6" width="3.2" height="5" fill="#fff" />
<rect x="308.2" y="463.6" width="3.1" height="6" fill="#fff" />
<rect x="313.83" y="448.6" width="3.2" height="5" fill="#fff" />
<rect x="314.13" y="463.6" width="3.1" height="6" fill="#fff" />
<rect x="319.76" y="448.6" width="3.2" height="5" fill="#fff" />
<rect x="320.06" y="463.6" width="3.1" height="6" fill="#fff" />
<rect x="325.69" y="448.6" width="3.2" height="5" fill="#fff" />
<rect x="325.99" y="463.6" width="3.1" height="6" fill="#fff" />
<rect x="253" y="456.6" width="34" height="5" fill="#fff" />
<rect x="293" y="456.6" width="32" height="5" fill="#fff" />
</g>
<path d="M245.8 456.6 h1.5 a1.3 1.3 0 0 1 1.3 1.3 v2.4 a1.3 1.3 0 0 1 -1.3 1.3 h-1.5 z" fill="#fff"/>
<g shape-rendering="crispEdges">
<rect x="445" y="349" width="226" height="18.7" fill="#000" />
<rect x="446" y="350.2" width="224" height="16.4" fill="#fff" />
<rect x="444" y="355.8" width="8.2" height="8" fill="#000" />
<rect x="445" y="357" width="7.2" height="5.8" fill="#fff" />
<rect x="452" y="349" width="3.8" height="16.8" fill="#000" />
<rect x="455.8" y="354" width="10.1" height="9.8" fill="#000" />
<rect x="455.8" y="355.2" width="9" height="7.5" fill="#fff" />
<rect x="462" y="349" width="1.2" height="7.9" fill="#000" />
<rect x="459.2" y="353.8" width="2.8" height="1.6" fill="#fff" />
<rect x="458.2" y="354" width="1" height="2.9" fill="#000" />
<rect x="458.2" y="355.9" width="5" height="1" fill="#000" />
<rect x="470" y="351" width="174" height="5" fill="#000" />
<rect x="470" y="356" width="175" height="8.7" fill="#000" />
<rect x="474" y="352" width="1" height="4" fill="#fff" />
<rect x="472.9" y="358.2" width="4.2" height="5.8" fill="#fff" />
<rect x="479.93" y="352" width="1" height="4" fill="#fff" />
<rect x="478.8" y="358.2" width="4.2" height="5.8" fill="#fff" />
<rect x="485.86" y="352" width="1" height="4" fill="#fff" />
<rect x="484.7" y="358.2" width="4.2" height="5.8" fill="#fff" />
<rect x="491.79" y="352" width="1" height="4" fill="#fff" />
<rect x="490.6" y="358.2" width="4.2" height="5.8" fill="#fff" />
<rect x="497.72" y="352" width="1" height="4" fill="#fff" />
<rect x="496.5" y="358.2" width="4.2" height="5.8" fill="#fff" />
<rect x="503.65" y="352" width="1" height="4" fill="#fff" />
<rect x="502.4" y="358.2" width="4.2" height="5.8" fill="#fff" />
<rect x="509.58" y="352" width="1" height="4" fill="#fff" />
<rect x="508.3" y="358.2" width="4.2" height="5.8" fill="#fff" />
<rect x="515.51" y="352" width="1" height="4" fill="#fff" />
<rect x="514.2" y="358.2" width="4.2" height="5.8" fill="#fff" />
<rect x="521.44" y="352" width="1" height="4" fill="#fff" />
<rect x="520.1" y="358.2" width="4.2" height="5.8" fill="#fff" />
<rect x="527.37" y="352" width="1" height="4" fill="#fff" />
<rect x="526" y="358.2" width="4.2" height="5.8" fill="#fff" />
<rect x="533.3" y="352" width="1" height="4" fill="#fff" />
<rect x="531.9" y="358.2" width="4.2" height="5.8" fill="#fff" />
<rect x="539.23" y="352" width="1" height="4" fill="#fff" />
<rect x="537.8" y="358.2" width="4.2" height="5.8" fill="#fff" />
<rect x="545.16" y="352" width="1" height="4" fill="#fff" />
<rect x="543.7" y="358.2" width="4.2" height="5.8" fill="#fff" />
<rect x="551.09" y="352" width="1" height="4" fill="#fff" />
<rect x="549.6" y="358.2" width="4.2" height="5.8" fill="#fff" />
<rect x="557.02" y="352" width="1" height="4" fill="#fff" />
<rect x="555.5" y="358.2" width="4.2" height="5.8" fill="#fff" />
<rect x="562.95" y="352" width="1" height="4" fill="#fff" />
<rect x="561.4" y="358.2" width="4.2" height="5.8" fill="#fff" />
<rect x="568.88" y="352" width="1" height="4" fill="#fff" />
<rect x="567.3" y="358.2" width="4.2" height="5.8" fill="#fff" />
<rect x="574.81" y="352" width="1" height="4" fill="#fff" />
<rect x="573.2" y="358.2" width="4.2" height="5.8" fill="#fff" />
<rect x="580.74" y="352" width="1" height="4" fill="#fff" />
<rect x="579.1" y="358.2" width="4.2" height="5.8" fill="#fff" />
<rect x="586.67" y="352" width="1" height="4" fill="#fff" />
<rect x="585" y="358.2" width="4.2" height="5.8" fill="#fff" />
<rect x="592.6" y="352" width="1" height="4" fill="#fff" />
<rect x="590.9" y="358.2" width="4.2" height="5.8" fill="#fff" />
<rect x="598.53" y="352" width="1" height="4" fill="#fff" />
<rect x="596.8" y="358.2" width="4.2" height="5.8" fill="#fff" />
<rect x="604.46" y="352" width="1" height="4" fill="#fff" />
<rect x="602.7" y="358.2" width="4.2" height="5.8" fill="#fff" />
<rect x="610.39" y="352" width="1" height="4" fill="#fff" />
<rect x="608.6" y="358.2" width="4.2" height="5.8" fill="#fff" />
<rect x="616.32" y="352" width="1" height="4" fill="#fff" />
<rect x="614.5" y="358.2" width="4.2" height="5.8" fill="#fff" />
<rect x="622.25" y="352" width="1" height="4" fill="#fff" />
<rect x="620.4" y="358.2" width="4.2" height="5.8" fill="#fff" />
<rect x="628.18" y="352" width="1" height="4" fill="#fff" />
<rect x="626.3" y="358.2" width="4.2" height="5.8" fill="#fff" />
<rect x="634.11" y="352" width="1" height="4" fill="#fff" />
<rect x="632.2" y="358.2" width="4.2" height="5.8" fill="#fff" />
<rect x="640.04" y="352" width="1" height="4" fill="#fff" />
<rect x="638.1" y="358.2" width="4.2" height="5.8" fill="#fff" />
<rect x="649" y="354.2" width="10.4" height="10.4" fill="#000" />
<rect x="650.1" y="355.3" width="9.3" height="8.2" fill="#fff" />
<rect x="651.3" y="349" width="1" height="8.7" fill="#000" />
<rect x="652.3" y="354" width="3.6" height="1.5" fill="#fff" />
<rect x="651.3" y="356.7" width="5.7" height="1.1" fill="#000" />
<rect x="655.9" y="354.2" width="1.1" height="3.6" fill="#000" />
<rect x="659.2" y="349" width="3.3" height="16.8" fill="#000" />
<rect x="662.5" y="355.8" width="8" height="1.1" fill="#000" />
<rect x="662.5" y="363" width="8" height="1.2" fill="#000" />
</g>
<g shape-rendering="crispEdges">
<rect x="445" y="369" width="226" height="18.7" fill="#000" />
<rect x="446" y="370.2" width="224" height="16.4" fill="#fff" />
<rect x="444" y="375.8" width="8.2" height="8" fill="#000" />
<rect x="445" y="377" width="7.2" height="5.8" fill="#fff" />
<rect x="452" y="369" width="3.8" height="16.8" fill="#000" />
<rect x="455.8" y="374" width="10.1" height="9.8" fill="#000" />
<rect x="455.8" y="375.2" width="9" height="7.5" fill="#fff" />
<rect x="462" y="369" width="1.2" height="7.9" fill="#000" />
<rect x="459.2" y="373.8" width="2.8" height="1.6" fill="#fff" />
<rect x="458.2" y="374" width="1" height="2.9" fill="#000" />
<rect x="458.2" y="375.9" width="5" height="1" fill="#000" />
<rect x="470" y="371" width="174" height="5" fill="#000" />
<rect x="470" y="376" width="175" height="8.7" fill="#000" />
<rect x="474" y="372" width="1" height="4" fill="#fff" />
<rect x="472.9" y="378.2" width="4.2" height="5.8" fill="#fff" />
<rect x="479.93" y="372" width="1" height="4" fill="#fff" />
<rect x="478.8" y="378.2" width="4.2" height="5.8" fill="#fff" />
<rect x="485.86" y="372" width="1" height="4" fill="#fff" />
<rect x="484.7" y="378.2" width="4.2" height="5.8" fill="#fff" />
<rect x="491.79" y="372" width="1" height="4" fill="#fff" />
<rect x="490.6" y="378.2" width="4.2" height="5.8" fill="#fff" />
<rect x="497.72" y="372" width="1" height="4" fill="#fff" />
<rect x="496.5" y="378.2" width="4.2" height="5.8" fill="#fff" />
<rect x="503.65" y="372" width="1" height="4" fill="#fff" />
<rect x="502.4" y="378.2" width="4.2" height="5.8" fill="#fff" />
<rect x="509.58" y="372" width="1" height="4" fill="#fff" />
<rect x="508.3" y="378.2" width="4.2" height="5.8" fill="#fff" />
<rect x="515.51" y="372" width="1" height="4" fill="#fff" />
<rect x="514.2" y="378.2" width="4.2" height="5.8" fill="#fff" />
<rect x="521.44" y="372" width="1" height="4" fill="#fff" />
<rect x="520.1" y="378.2" width="4.2" height="5.8" fill="#fff" />
<rect x="527.37" y="372" width="1" height="4" fill="#fff" />
<rect x="526" y="378.2" width="4.2" height="5.8" fill="#fff" />
<rect x="533.3" y="372" width="1" height="4" fill="#fff" />
<rect x="531.9" y="378.2" width="4.2" height="5.8" fill="#fff" />
<rect x="539.23" y="372" width="1" height="4" fill="#fff" />
<rect x="537.8" y="378.2" width="4.2" height="5.8" fill="#fff" />
<rect x="545.16" y="372" width="1" height="4" fill="#fff" />
<rect x="543.7" y="378.2" width="4.2" height="5.8" fill="#fff" />
<rect x="551.09" y="372" width="1" height="4" fill="#fff" />
<rect x="549.6" y="378.2" width="4.2" height="5.8" fill="#fff" />
<rect x="557.02" y="372" width="1" height="4" fill="#fff" />
<rect x="555.5" y="378.2" width="4.2" height="5.8" fill="#fff" />
<rect x="562.95" y="372" width="1" height="4" fill="#fff" />
<rect x="561.4" y="378.2" width="4.2" height="5.8" fill="#fff" />
<rect x="568.88" y="372" width="1" height="4" fill="#fff" />
<rect x="567.3" y="378.2" width="4.2" height="5.8" fill="#fff" />
<rect x="574.81" y="372" width="1" height="4" fill="#fff" />
<rect x="573.2" y="378.2" width="4.2" height="5.8" fill="#fff" />
<rect x="580.74" y="372" width="1" height="4" fill="#fff" />
<rect x="579.1" y="378.2" width="4.2" height="5.8" fill="#fff" />
<rect x="586.67" y="372" width="1" height="4" fill="#fff" />
<rect x="585" y="378.2" width="4.2" height="5.8" fill="#fff" />
<rect x="592.6" y="372" width="1" height="4" fill="#fff" />
<rect x="590.9" y="378.2" width="4.2" height="5.8" fill="#fff" />
<rect x="598.53" y="372" width="1" height="4" fill="#fff" />
<rect x="596.8" y="378.2" width="4.2" height="5.8" fill="#fff" />
<rect x="604.46" y="372" width="1" height="4" fill="#fff" />
<rect x="602.7" y="378.2" width="4.2" height="5.8" fill="#fff" />
<rect x="610.39" y="372" width="1" height="4" fill="#fff" />
<rect x="608.6" y="378.2" width="4.2" height="5.8" fill="#fff" />
<rect x="616.32" y="372" width="1" height="4" fill="#fff" />
<rect x="614.5" y="378.2" width="4.2" height="5.8" fill="#fff" />
<rect x="622.25" y="372" width="1" height="4" fill="#fff" />
<rect x="620.4" y="378.2" width="4.2" height="5.8" fill="#fff" />
<rect x="628.18" y="372" width="1" height="4" fill="#fff" />
<rect x="626.3" y="378.2" width="4.2" height="5.8" fill="#fff" />
<rect x="634.11" y="372" width="1" height="4" fill="#fff" />
<rect x="632.2" y="378.2" width="4.2" height="5.8" fill="#fff" />
<rect x="640.04" y="372" width="1" height="4" fill="#fff" />
<rect x="638.1" y="378.2" width="4.2" height="5.8" fill="#fff" />
<rect x="649" y="374.2" width="10.4" height="10.4" fill="#000" />
<rect x="650.1" y="375.3" width="9.3" height="8.2" fill="#fff" />
<rect x="651.3" y="369" width="1" height="8.7" fill="#000" />
<rect x="652.3" y="374" width="3.6" height="1.5" fill="#fff" />
<rect x="651.3" y="376.7" width="5.7" height="1.1" fill="#000" />
<rect x="655.9" y="374.2" width="1.1" height="3.6" fill="#000" />
<rect x="659.2" y="369" width="3.3" height="16.8" fill="#000" />
<rect x="662.5" y="375.8" width="8" height="1.1" fill="#000" />
<rect x="662.5" y="383" width="8" height="1.2" fill="#000" />
</g>
<g shape-rendering="crispEdges">
<rect x="445" y="389" width="226" height="18.7" fill="#000" />
<rect x="446" y="390.2" width="224" height="16.4" fill="#fff" />
<rect x="444" y="395.8" width="8.2" height="8" fill="#000" />
<rect x="445" y="397" width="7.2" height="5.8" fill="#fff" />
<rect x="452" y="389" width="3.8" height="16.8" fill="#000" />
<rect x="455.8" y="394" width="10.1" height="9.8" fill="#000" />
<rect x="455.8" y="395.2" width="9" height="7.5" fill="#fff" />
<rect x="462" y="389" width="1.2" height="7.9" fill="#000" />
<rect x="459.2" y="393.8" width="2.8" height="1.6" fill="#fff" />
<rect x="458.2" y="394" width="1" height="2.9" fill="#000" />
<rect x="458.2" y="395.9" width="5" height="1" fill="#000" />
<rect x="470" y="391" width="174" height="5" fill="#000" />
<rect x="470" y="396" width="175" height="8.7" fill="#000" />
<rect x="474" y="392" width="1" height="4" fill="#fff" />
<rect x="472.9" y="398.2" width="4.2" height="5.8" fill="#fff" />
<rect x="479.93" y="392" width="1" height="4" fill="#fff" />
<rect x="478.8" y="398.2" width="4.2" height="5.8" fill="#fff" />
<rect x="485.86" y="392" width="1" height="4" fill="#fff" />
<rect x="484.7" y="398.2" width="4.2" height="5.8" fill="#fff" />
<rect x="491.79" y="392" width="1" height="4" fill="#fff" />
<rect x="490.6" y="398.2" width="4.2" height="5.8" fill="#fff" />
<rect x="497.72" y="392" width="1" height="4" fill="#fff" />
<rect x="496.5" y="398.2" width="4.2" height="5.8" fill="#fff" />
<rect x="503.65" y="392" width="1" height="4" fill="#fff" />
<rect x="502.4" y="398.2" width="4.2" height="5.8" fill="#fff" />
<rect x="509.58" y="392" width="1" height="4" fill="#fff" />
<rect x="508.3" y="398.2" width="4.2" height="5.8" fill="#fff" />
<rect x="515.51" y="392" width="1" height="4" fill="#fff" />
<rect x="514.2" y="398.2" width="4.2" height="5.8" fill="#fff" />
<rect x="521.44" y="392" width="1" height="4" fill="#fff" />
<rect x="520.1" y="398.2" width="4.2" height="5.8" fill="#fff" />
<rect x="527.37" y="392" width="1" height="4" fill="#fff" />
<rect x="526" y="398.2" width="4.2" height="5.8" fill="#fff" />
<rect x="533.3" y="392" width="1" height="4" fill="#fff" />
<rect x="531.9" y="398.2" width="4.2" height="5.8" fill="#fff" />
<rect x="539.23" y="392" width="1" height="4" fill="#fff" />
<rect x="537.8" y="398.2" width="4.2" height="5.8" fill="#fff" />
<rect x="545.16" y="392" width="1" height="4" fill="#fff" />
<rect x="543.7" y="398.2" width="4.2" height="5.8" fill="#fff" />
<rect x="551.09" y="392" width="1" height="4" fill="#fff" />
<rect x="549.6" y="398.2" width="4.2" height="5.8" fill="#fff" />
<rect x="557.02" y="392" width="1" height="4" fill="#fff" />
<rect x="555.5" y="398.2" width="4.2" height="5.8" fill="#fff" />
<rect x="562.95" y="392" width="1" height="4" fill="#fff" />
<rect x="561.4" y="398.2" width="4.2" height="5.8" fill="#fff" />
<rect x="568.88" y="392" width="1" height="4" fill="#fff" />
<rect x="567.3" y="398.2" width="4.2" height="5.8" fill="#fff" />
<rect x="574.81" y="392" width="1" height="4" fill="#fff" />
<rect x="573.2" y="398.2" width="4.2" height="5.8" fill="#fff" />
<rect x="580.74" y="392" width="1" height="4" fill="#fff" />
<rect x="579.1" y="398.2" width="4.2" height="5.8" fill="#fff" />
<rect x="586.67" y="392" width="1" height="4" fill="#fff" />
<rect x="585" y="398.2" width="4.2" height="5.8" fill="#fff" />
<rect x="592.6" y="392" width="1" height="4" fill="#fff" />
<rect x="590.9" y="398.2" width="4.2" height="5.8" fill="#fff" />
<rect x="598.53" y="392" width="1" height="4" fill="#fff" />
<rect x="596.8" y="398.2" width="4.2" height="5.8" fill="#fff" />
<rect x="604.46" y="392" width="1" height="4" fill="#fff" />
<rect x="602.7" y="398.2" width="4.2" height="5.8" fill="#fff" />
<rect x="610.39" y="392" width="1" height="4" fill="#fff" />
<rect x="608.6" y="398.2" width="4.2" height="5.8" fill="#fff" />
<rect x="616.32" y="392" width="1" height="4" fill="#fff" />
<rect x="614.5" y="398.2" width="4.2" height="5.8" fill="#fff" />
<rect x="622.25" y="392" width="1" height="4" fill="#fff" />
<rect x="620.4" y="398.2" width="4.2" height="5.8" fill="#fff" />
<rect x="628.18" y="392" width="1" height="4" fill="#fff" />
<rect x="626.3" y="398.2" width="4.2" height="5.8" fill="#fff" />
<rect x="634.11" y="392" width="1" height="4" fill="#fff" />
<rect x="632.2" y="398.2" width="4.2" height="5.8" fill="#fff" />
<rect x="640.04" y="392" width="1" height="4" fill="#fff" />
<rect x="638.1" y="398.2" width="4.2" height="5.8" fill="#fff" />
<rect x="649" y="394.2" width="10.4" height="10.4" fill="#000" />
<rect x="650.1" y="395.3" width="9.3" height="8.2" fill="#fff" />
<rect x="651.3" y="389" width="1" height="8.7" fill="#000" />
<rect x="652.3" y="394" width="3.6" height="1.5" fill="#fff" />
<rect x="651.3" y="396.7" width="5.7" height="1.1" fill="#000" />
<rect x="655.9" y="394.2" width="1.1" height="3.6" fill="#000" />
<rect x="659.2" y="389" width="3.3" height="16.8" fill="#000" />
<rect x="662.5" y="395.8" width="8" height="1.1" fill="#000" />
<rect x="662.5" y="403" width="8" height="1.2" fill="#000" />
</g>
<g shape-rendering="crispEdges">
<rect x="445" y="409" width="226" height="18.7" fill="#000" />
<rect x="446" y="410.2" width="224" height="16.4" fill="#fff" />
<rect x="444" y="415.8" width="8.2" height="8" fill="#000" />
<rect x="445" y="417" width="7.2" height="5.8" fill="#fff" />
<rect x="452" y="409" width="3.8" height="16.8" fill="#000" />
<rect x="455.8" y="414" width="10.1" height="9.8" fill="#000" />
<rect x="455.8" y="415.2" width="9" height="7.5" fill="#fff" />
<rect x="462" y="409" width="1.2" height="7.9" fill="#000" />
<rect x="459.2" y="413.8" width="2.8" height="1.6" fill="#fff" />
<rect x="458.2" y="414" width="1" height="2.9" fill="#000" />
<rect x="458.2" y="415.9" width="5" height="1" fill="#000" />
<rect x="470" y="411" width="174" height="5" fill="#000" />
<rect x="470" y="416" width="175" height="8.7" fill="#000" />
<rect x="474" y="412" width="1" height="4" fill="#fff" />
<rect x="472.9" y="418.2" width="4.2" height="5.8" fill="#fff" />
<rect x="479.93" y="412" width="1" height="4" fill="#fff" />
<rect x="478.8" y="418.2" width="4.2" height="5.8" fill="#fff" />
<rect x="485.86" y="412" width="1" height="4" fill="#fff" />
<rect x="484.7" y="418.2" width="4.2" height="5.8" fill="#fff" />
<rect x="491.79" y="412" width="1" height="4" fill="#fff" />
<rect x="490.6" y="418.2" width="4.2" height="5.8" fill="#fff" />
<rect x="497.72" y="412" width="1" height="4" fill="#fff" />
<rect x="496.5" y="418.2" width="4.2" height="5.8" fill="#fff" />
<rect x="503.65" y="412" width="1" height="4" fill="#fff" />
<rect x="502.4" y="418.2" width="4.2" height="5.8" fill="#fff" />
<rect x="509.58" y="412" width="1" height="4" fill="#fff" />
<rect x="508.3" y="418.2" width="4.2" height="5.8" fill="#fff" />
<rect x="515.51" y="412" width="1" height="4" fill="#fff" />
<rect x="514.2" y="418.2" width="4.2" height="5.8" fill="#fff" />
<rect x="521.44" y="412" width="1" height="4" fill="#fff" />
<rect x="520.1" y="418.2" width="4.2" height="5.8" fill="#fff" />
<rect x="527.37" y="412" width="1" height="4" fill="#fff" />
<rect x="526" y="418.2" width="4.2" height="5.8" fill="#fff" />
<rect x="533.3" y="412" width="1" height="4" fill="#fff" />
<rect x="531.9" y="418.2" width="4.2" height="5.8" fill="#fff" />
<rect x="539.23" y="412" width="1" height="4" fill="#fff" />
<rect x="537.8" y="418.2" width="4.2" height="5.8" fill="#fff" />
<rect x="545.16" y="412" width="1" height="4" fill="#fff" />
<rect x="543.7" y="418.2" width="4.2" height="5.8" fill="#fff" />
<rect x="551.09" y="412" width="1" height="4" fill="#fff" />
<rect x="549.6" y="418.2" width="4.2" height="5.8" fill="#fff" />
<rect x="557.02" y="412" width="1" height="4" fill="#fff" />
<rect x="555.5" y="418.2" width="4.2" height="5.8" fill="#fff" />
<rect x="562.95" y="412" width="1" height="4" fill="#fff" />
<rect x="561.4" y="418.2" width="4.2" height="5.8" fill="#fff" />
<rect x="568.88" y="412" width="1" height="4" fill="#fff" />
<rect x="567.3" y="418.2" width="4.2" height="5.8" fill="#fff" />
<rect x="574.81" y="412" width="1" height="4" fill="#fff" />
<rect x="573.2" y="418.2" width="4.2" height="5.8" fill="#fff" />
<rect x="580.74" y="412" width="1" height="4" fill="#fff" />
<rect x="579.1" y="418.2" width="4.2" height="5.8" fill="#fff" />
<rect x="586.67" y="412" width="1" height="4" fill="#fff" />
<rect x="585" y="418.2" width="4.2" height="5.8" fill="#fff" />
<rect x="592.6" y="412" width="1" height="4" fill="#fff" />
<rect x="590.9" y="418.2" width="4.2" height="5.8" fill="#fff" />
<rect x="598.53" y="412" width="1" height="4" fill="#fff" />
<rect x="596.8" y="418.2" width="4.2" height="5.8" fill="#fff" />
<rect x="604.46" y="412" width="1" height="4" fill="#fff" />
<rect x="602.7" y="418.2" width="4.2" height="5.8" fill="#fff" />
<rect x="610.39" y="412" width="1" height="4" fill="#fff" />
<rect x="608.6" y="418.2" width="4.2" height="5.8" fill="#fff" />
<rect x="616.32" y="412" width="1" height="4" fill="#fff" />
<rect x="614.5" y="418.2" width="4.2" height="5.8" fill="#fff" />
<rect x="622.25" y="412" width="1" height="4" fill="#fff" />
<rect x="620.4" y="418.2" width="4.2" height="5.8" fill="#fff" />
<rect x="628.18" y="412" width="1" height="4" fill="#fff" />
<rect x="626.3" y="418.2" width="4.2" height="5.8" fill="#fff" />
<rect x="634.11" y="412" width="1" height="4" fill="#fff" />
<rect x="632.2" y="418.2" width="4.2" height="5.8" fill="#fff" />
<rect x="640.04" y="412" width="1" height="4" fill="#fff" />
<rect x="638.1" y="418.2" width="4.2" height="5.8" fill="#fff" />
<rect x="649" y="414.2" width="10.4" height="10.4" fill="#000" />
<rect x="650.1" y="415.3" width="9.3" height="8.2" fill="#fff" />
<rect x="651.3" y="409" width="1" height="8.7" fill="#000" />
<rect x="652.3" y="414" width="3.6" height="1.5" fill="#fff" />
<rect x="651.3" y="416.7" width="5.7" height="1.1" fill="#000" />
<rect x="655.9" y="414.2" width="1.1" height="3.6" fill="#000" />
<rect x="659.2" y="409" width="3.3" height="16.8" fill="#000" />
<rect x="662.5" y="415.8" width="8" height="1.1" fill="#000" />
<rect x="662.5" y="423" width="8" height="1.2" fill="#000" />
</g>
<g shape-rendering="crispEdges">
<rect x="445" y="429" width="226" height="18.7" fill="#000" />
<rect x="446" y="430.2" width="224" height="16.4" fill="#fff" />
<rect x="444" y="435.8" width="8.2" height="8" fill="#000" />
<rect x="445" y="437" width="7.2" height="5.8" fill="#fff" />
<rect x="452" y="429" width="3.8" height="16.8" fill="#000" />
<rect x="455.8" y="434" width="10.1" height="9.8" fill="#000" />
<rect x="455.8" y="435.2" width="9" height="7.5" fill="#fff" />
<rect x="462" y="429" width="1.2" height="7.9" fill="#000" />
<rect x="459.2" y="433.8" width="2.8" height="1.6" fill="#fff" />
<rect x="458.2" y="434" width="1" height="2.9" fill="#000" />
<rect x="458.2" y="435.9" width="5" height="1" fill="#000" />
<rect x="470" y="431" width="174" height="5" fill="#000" />
<rect x="470" y="436" width="175" height="8.7" fill="#000" />
<rect x="474" y="432" width="1" height="4" fill="#fff" />
<rect x="472.9" y="438.2" width="4.2" height="5.8" fill="#fff" />
<rect x="479.93" y="432" width="1" height="4" fill="#fff" />
<rect x="478.8" y="438.2" width="4.2" height="5.8" fill="#fff" />
<rect x="485.86" y="432" width="1" height="4" fill="#fff" />
<rect x="484.7" y="438.2" width="4.2" height="5.8" fill="#fff" />
<rect x="491.79" y="432" width="1" height="4" fill="#fff" />
<rect x="490.6" y="438.2" width="4.2" height="5.8" fill="#fff" />
<rect x="497.72" y="432" width="1" height="4" fill="#fff" />
<rect x="496.5" y="438.2" width="4.2" height="5.8" fill="#fff" />
<rect x="503.65" y="432" width="1" height="4" fill="#fff" />
<rect x="502.4" y="438.2" width="4.2" height="5.8" fill="#fff" />
<rect x="509.58" y="432" width="1" height="4" fill="#fff" />
<rect x="508.3" y="438.2" width="4.2" height="5.8" fill="#fff" />
<rect x="515.51" y="432" width="1" height="4" fill="#fff" />
<rect x="514.2" y="438.2" width="4.2" height="5.8" fill="#fff" />
<rect x="521.44" y="432" width="1" height="4" fill="#fff" />
<rect x="520.1" y="438.2" width="4.2" height="5.8" fill="#fff" />
<rect x="527.37" y="432" width="1" height="4" fill="#fff" />
<rect x="526" y="438.2" width="4.2" height="5.8" fill="#fff" />
<rect x="533.3" y="432" width="1" height="4" fill="#fff" />
<rect x="531.9" y="438.2" width="4.2" height="5.8" fill="#fff" />
<rect x="539.23" y="432" width="1" height="4" fill="#fff" />
<rect x="537.8" y="438.2" width="4.2" height="5.8" fill="#fff" />
<rect x="545.16" y="432" width="1" height="4" fill="#fff" />
<rect x="543.7" y="438.2" width="4.2" height="5.8" fill="#fff" />
<rect x="551.09" y="432" width="1" height="4" fill="#fff" />
<rect x="549.6" y="438.2" width="4.2" height="5.8" fill="#fff" />
<rect x="557.02" y="432" width="1" height="4" fill="#fff" />
<rect x="555.5" y="438.2" width="4.2" height="5.8" fill="#fff" />
<rect x="562.95" y="432" width="1" height="4" fill="#fff" />
<rect x="561.4" y="438.2" width="4.2" height="5.8" fill="#fff" />
<rect x="568.88" y="432" width="1" height="4" fill="#fff" />
<rect x="567.3" y="438.2" width="4.2" height="5.8" fill="#fff" />
<rect x="574.81" y="432" width="1" height="4" fill="#fff" />
<rect x="573.2" y="438.2" width="4.2" height="5.8" fill="#fff" />
<rect x="580.74" y="432" width="1" height="4" fill="#fff" />
<rect x="579.1" y="438.2" width="4.2" height="5.8" fill="#fff" />
<rect x="586.67" y="432" width="1" height="4" fill="#fff" />
<rect x="585" y="438.2" width="4.2" height="5.8" fill="#fff" />
<rect x="592.6" y="432" width="1" height="4" fill="#fff" />
<rect x="590.9" y="438.2" width="4.2" height="5.8" fill="#fff" />
<rect x="598.53" y="432" width="1" height="4" fill="#fff" />
<rect x="596.8" y="438.2" width="4.2" height="5.8" fill="#fff" />
<rect x="604.46" y="432" width="1" height="4" fill="#fff" />
<rect x="602.7" y="438.2" width="4.2" height="5.8" fill="#fff" />
<rect x="610.39" y="432" width="1" height="4" fill="#fff" />
<rect x="608.6" y="438.2" width="4.2" height="5.8" fill="#fff" />
<rect x="616.32" y="432" width="1" height="4" fill="#fff" />
<rect x="614.5" y="438.2" width="4.2" height="5.8" fill="#fff" />
<rect x="622.25" y="432" width="1" height="4" fill="#fff" />
<rect x="620.4" y="438.2" width="4.2" height="5.8" fill="#fff" />
<rect x="628.18" y="432" width="1" height="4" fill="#fff" />
<rect x="626.3" y="438.2" width="4.2" height="5.8" fill="#fff" />
<rect x="634.11" y="432" width="1" height="4" fill="#fff" />
<rect x="632.2" y="438.2" width="4.2" height="5.8" fill="#fff" />
<rect x="640.04" y="432" width="1" height="4" fill="#fff" />
<rect x="638.1" y="438.2" width="4.2" height="5.8" fill="#fff" />
<rect x="649" y="434.2" width="10.4" height="10.4" fill="#000" />
<rect x="650.1" y="435.3" width="9.3" height="8.2" fill="#fff" />
<rect x="651.3" y="429" width="1" height="8.7" fill="#000" />
<rect x="652.3" y="434" width="3.6" height="1.5" fill="#fff" />
<rect x="651.3" y="436.7" width="5.7" height="1.1" fill="#000" />
<rect x="655.9" y="434.2" width="1.1" height="3.6" fill="#000" />
<rect x="659.2" y="429" width="3.3" height="16.8" fill="#000" />
<rect x="662.5" y="435.8" width="8" height="1.1" fill="#000" />
<rect x="662.5" y="443" width="8" height="1.2" fill="#000" />
</g>
<g shape-rendering="crispEdges">
<rect x="445" y="449" width="226" height="18.7" fill="#000" />
<rect x="446" y="450.2" width="224" height="16.4" fill="#fff" />
<rect x="444" y="455.8" width="8.2" height="8" fill="#000" />
<rect x="445" y="457" width="7.2" height="5.8" fill="#fff" />
<rect x="452" y="449" width="3.8" height="16.8" fill="#000" />
<rect x="455.8" y="454" width="10.1" height="9.8" fill="#000" />
<rect x="455.8" y="455.2" width="9" height="7.5" fill="#fff" />
<rect x="462" y="449" width="1.2" height="7.9" fill="#000" />
<rect x="459.2" y="453.8" width="2.8" height="1.6" fill="#fff" />
<rect x="458.2" y="454" width="1" height="2.9" fill="#000" />
<rect x="458.2" y="455.9" width="5" height="1" fill="#000" />
<rect x="470" y="451" width="174" height="5" fill="#000" />
<rect x="470" y="456" width="175" height="8.7" fill="#000" />
<rect x="474" y="452" width="1" height="4" fill="#fff" />
<rect x="472.9" y="458.2" width="4.2" height="5.8" fill="#fff" />
<rect x="479.93" y="452" width="1" height="4" fill="#fff" />
<rect x="478.8" y="458.2" width="4.2" height="5.8" fill="#fff" />
<rect x="485.86" y="452" width="1" height="4" fill="#fff" />
<rect x="484.7" y="458.2" width="4.2" height="5.8" fill="#fff" />
<rect x="491.79" y="452" width="1" height="4" fill="#fff" />
<rect x="490.6" y="458.2" width="4.2" height="5.8" fill="#fff" />
<rect x="497.72" y="452" width="1" height="4" fill="#fff" />
<rect x="496.5" y="458.2" width="4.2" height="5.8" fill="#fff" />
<rect x="503.65" y="452" width="1" height="4" fill="#fff" />
<rect x="502.4" y="458.2" width="4.2" height="5.8" fill="#fff" />
<rect x="509.58" y="452" width="1" height="4" fill="#fff" />
<rect x="508.3" y="458.2" width="4.2" height="5.8" fill="#fff" />
<rect x="515.51" y="452" width="1" height="4" fill="#fff" />
<rect x="514.2" y="458.2" width="4.2" height="5.8" fill="#fff" />
<rect x="521.44" y="452" width="1" height="4" fill="#fff" />
<rect x="520.1" y="458.2" width="4.2" height="5.8" fill="#fff" />
<rect x="527.37" y="452" width="1" height="4" fill="#fff" />
<rect x="526" y="458.2" width="4.2" height="5.8" fill="#fff" />
<rect x="533.3" y="452" width="1" height="4" fill="#fff" />
<rect x="531.9" y="458.2" width="4.2" height="5.8" fill="#fff" />
<rect x="539.23" y="452" width="1" height="4" fill="#fff" />
<rect x="537.8" y="458.2" width="4.2" height="5.8" fill="#fff" />
<rect x="545.16" y="452" width="1" height="4" fill="#fff" />
<rect x="543.7" y="458.2" width="4.2" height="5.8" fill="#fff" />
<rect x="551.09" y="452" width="1" height="4" fill="#fff" />
<rect x="549.6" y="458.2" width="4.2" height="5.8" fill="#fff" />
<rect x="557.02" y="452" width="1" height="4" fill="#fff" />
<rect x="555.5" y="458.2" width="4.2" height="5.8" fill="#fff" />
<rect x="562.95" y="452" width="1" height="4" fill="#fff" />
<rect x="561.4" y="458.2" width="4.2" height="5.8" fill="#fff" />
<rect x="568.88" y="452" width="1" height="4" fill="#fff" />
<rect x="567.3" y="458.2" width="4.2" height="5.8" fill="#fff" />
<rect x="574.81" y="452" width="1" height="4" fill="#fff" />
<rect x="573.2" y="458.2" width="4.2" height="5.8" fill="#fff" />
<rect x="580.74" y="452" width="1" height="4" fill="#fff" />
<rect x="579.1" y="458.2" width="4.2" height="5.8" fill="#fff" />
<rect x="586.67" y="452" width="1" height="4" fill="#fff" />
<rect x="585" y="458.2" width="4.2" height="5.8" fill="#fff" />
<rect x="592.6" y="452" width="1" height="4" fill="#fff" />
<rect x="590.9" y="458.2" width="4.2" height="5.8" fill="#fff" />
<rect x="598.53" y="452" width="1" height="4" fill="#fff" />
<rect x="596.8" y="458.2" width="4.2" height="5.8" fill="#fff" />
<rect x="604.46" y="452" width="1" height="4" fill="#fff" />
<rect x="602.7" y="458.2" width="4.2" height="5.8" fill="#fff" />
<rect x="610.39" y="452" width="1" height="4" fill="#fff" />
<rect x="608.6" y="458.2" width="4.2" height="5.8" fill="#fff" />
<rect x="616.32" y="452" width="1" height="4" fill="#fff" />
<rect x="614.5" y="458.2" width="4.2" height="5.8" fill="#fff" />
<rect x="622.25" y="452" width="1" height="4" fill="#fff" />
<rect x="620.4" y="458.2" width="4.2" height="5.8" fill="#fff" />
<rect x="628.18" y="452" width="1" height="4" fill="#fff" />
<rect x="626.3" y="458.2" width="4.2" height="5.8" fill="#fff" />
<rect x="634.11" y="452" width="1" height="4" fill="#fff" />
<rect x="632.2" y="458.2" width="4.2" height="5.8" fill="#fff" />
<rect x="640.04" y="452" width="1" height="4" fill="#fff" />
<rect x="638.1" y="458.2" width="4.2" height="5.8" fill="#fff" />
<rect x="649" y="454.2" width="10.4" height="10.4" fill="#000" />
<rect x="650.1" y="455.3" width="9.3" height="8.2" fill="#fff" />
<rect x="651.3" y="449" width="1" height="8.7" fill="#000" />
<rect x="652.3" y="454" width="3.6" height="1.5" fill="#fff" />
<rect x="651.3" y="456.7" width="5.7" height="1.1" fill="#000" />
<rect x="655.9" y="454.2" width="1.1" height="3.6" fill="#000" />
<rect x="659.2" y="449" width="3.3" height="16.8" fill="#000" />
<rect x="662.5" y="455.8" width="8" height="1.1" fill="#000" />
<rect x="662.5" y="463" width="8" height="1.2" fill="#000" />
</g>
<g shape-rendering="crispEdges">
<rect x="445" y="469" width="226" height="18.7" fill="#000" />
<rect x="446" y="470.2" width="224" height="16.4" fill="#fff" />
<rect x="444" y="475.8" width="8.2" height="8" fill="#000" />
<rect x="445" y="477" width="7.2" height="5.8" fill="#fff" />
<rect x="452" y="469" width="3.8" height="16.8" fill="#000" />
<rect x="455.8" y="474" width="10.1" height="9.8" fill="#000" />
<rect x="455.8" y="475.2" width="9" height="7.5" fill="#fff" />
<rect x="462" y="469" width="1.2" height="7.9" fill="#000" />
<rect x="459.2" y="473.8" width="2.8" height="1.6" fill="#fff" />
<rect x="458.2" y="474" width="1" height="2.9" fill="#000" />
<rect x="458.2" y="475.9" width="5" height="1" fill="#000" />
<rect x="470" y="471" width="174" height="5" fill="#000" />
<rect x="470" y="476" width="175" height="8.7" fill="#000" />
<rect x="474" y="472" width="1" height="4" fill="#fff" />
<rect x="472.9" y="478.2" width="4.2" height="5.8" fill="#fff" />
<rect x="479.93" y="472" width="1" height="4" fill="#fff" />
<rect x="478.8" y="478.2" width="4.2" height="5.8" fill="#fff" />
<rect x="485.86" y="472" width="1" height="4" fill="#fff" />
<rect x="484.7" y="478.2" width="4.2" height="5.8" fill="#fff" />
<rect x="491.79" y="472" width="1" height="4" fill="#fff" />
<rect x="490.6" y="478.2" width="4.2" height="5.8" fill="#fff" />
<rect x="497.72" y="472" width="1" height="4" fill="#fff" />
<rect x="496.5" y="478.2" width="4.2" height="5.8" fill="#fff" />
<rect x="503.65" y="472" width="1" height="4" fill="#fff" />
<rect x="502.4" y="478.2" width="4.2" height="5.8" fill="#fff" />
<rect x="509.58" y="472" width="1" height="4" fill="#fff" />
<rect x="508.3" y="478.2" width="4.2" height="5.8" fill="#fff" />
<rect x="515.51" y="472" width="1" height="4" fill="#fff" />
<rect x="514.2" y="478.2" width="4.2" height="5.8" fill="#fff" />
<rect x="521.44" y="472" width="1" height="4" fill="#fff" />
<rect x="520.1" y="478.2" width="4.2" height="5.8" fill="#fff" />
<rect x="527.37" y="472" width="1" height="4" fill="#fff" />
<rect x="526" y="478.2" width="4.2" height="5.8" fill="#fff" />
<rect x="533.3" y="472" width="1" height="4" fill="#fff" />
<rect x="531.9" y="478.2" width="4.2" height="5.8" fill="#fff" />
<rect x="539.23" y="472" width="1" height="4" fill="#fff" />
<rect x="537.8" y="478.2" width="4.2" height="5.8" fill="#fff" />
<rect x="545.16" y="472" width="1" height="4" fill="#fff" />
<rect x="543.7" y="478.2" width="4.2" height="5.8" fill="#fff" />
<rect x="551.09" y="472" width="1" height="4" fill="#fff" />
<rect x="549.6" y="478.2" width="4.2" height="5.8" fill="#fff" />
<rect x="557.02" y="472" width="1" height="4" fill="#fff" />
<rect x="555.5" y="478.2" width="4.2" height="5.8" fill="#fff" />
<rect x="562.95" y="472" width="1" height="4" fill="#fff" />
<rect x="561.4" y="478.2" width="4.2" height="5.8" fill="#fff" />
<rect x="568.88" y="472" width="1" height="4" fill="#fff" />
<rect x="567.3" y="478.2" width="4.2" height="5.8" fill="#fff" />
<rect x="574.81" y="472" width="1" height="4" fill="#fff" />
<rect x="573.2" y="478.2" width="4.2" height="5.8" fill="#fff" />
<rect x="580.74" y="472" width="1" height="4" fill="#fff" />
<rect x="579.1" y="478.2" width="4.2" height="5.8" fill="#fff" />
<rect x="586.67" y="472" width="1" height="4" fill="#fff" />
<rect x="585" y="478.2" width="4.2" height="5.8" fill="#fff" />
<rect x="592.6" y="472" width="1" height="4" fill="#fff" />
<rect x="590.9" y="478.2" width="4.2" height="5.8" fill="#fff" />
<rect x="598.53" y="472" width="1" height="4" fill="#fff" />
<rect x="596.8" y="478.2" width="4.2" height="5.8" fill="#fff" />
<rect x="604.46" y="472" width="1" height="4" fill="#fff" />
<rect x="602.7" y="478.2" width="4.2" height="5.8" fill="#fff" />
<rect x="610.39" y="472" width="1" height="4" fill="#fff" />
<rect x="608.6" y="478.2" width="4.2" height="5.8" fill="#fff" />
<rect x="616.32" y="472" width="1" height="4" fill="#fff" />
<rect x="614.5" y="478.2" width="4.2" height="5.8" fill="#fff" />
<rect x="622.25" y="472" width="1" height="4" fill="#fff" />
<rect x="620.4" y="478.2" width="4.2" height="5.8" fill="#fff" />
<rect x="628.18" y="472" width="1" height="4" fill="#fff" />
<rect x="626.3" y="478.2" width="4.2" height="5.8" fill="#fff" />
<rect x="634.11" y="472" width="1" height="4" fill="#fff" />
<rect x="632.2" y="478.2" width="4.2" height="5.8" fill="#fff" />
<rect x="640.04" y="472" width="1" height="4" fill="#fff" />
<rect x="638.1" y="478.2" width="4.2" height="5.8" fill="#fff" />
<rect x="649" y="474.2" width="10.4" height="10.4" fill="#000" />
<rect x="650.1" y="475.3" width="9.3" height="8.2" fill="#fff" />
<rect x="651.3" y="469" width="1" height="8.7" fill="#000" />
<rect x="652.3" y="474" width="3.6" height="1.5" fill="#fff" />
<rect x="651.3" y="476.7" width="5.7" height="1.1" fill="#000" />
<rect x="655.9" y="474.2" width="1.1" height="3.6" fill="#000" />
<rect x="659.2" y="469" width="3.3" height="16.8" fill="#000" />
<rect x="662.5" y="475.8" width="8" height="1.1" fill="#000" />
<rect x="662.5" y="483" width="8" height="1.2" fill="#000" />
</g>
<g shape-rendering="crispEdges">
<rect x="445" y="489" width="226" height="18.7" fill="#000" />
<rect x="446" y="490.2" width="224" height="16.4" fill="#fff" />
<rect x="444" y="495.8" width="8.2" height="8" fill="#000" />
<rect x="445" y="497" width="7.2" height="5.8" fill="#fff" />
<rect x="452" y="489" width="3.8" height="16.8" fill="#000" />
<rect x="455.8" y="494" width="10.1" height="9.8" fill="#000" />
<rect x="455.8" y="495.2" width="9" height="7.5" fill="#fff" />
<rect x="462" y="489" width="1.2" height="7.9" fill="#000" />
<rect x="459.2" y="493.8" width="2.8" height="1.6" fill="#fff" />
<rect x="458.2" y="494" width="1" height="2.9" fill="#000" />
<rect x="458.2" y="495.9" width="5" height="1" fill="#000" />
<rect x="470" y="491" width="174" height="5" fill="#000" />
<rect x="470" y="496" width="175" height="8.7" fill="#000" />
<rect x="474" y="492" width="1" height="4" fill="#fff" />
<rect x="472.9" y="498.2" width="4.2" height="5.8" fill="#fff" />
<rect x="479.93" y="492" width="1" height="4" fill="#fff" />
<rect x="478.8" y="498.2" width="4.2" height="5.8" fill="#fff" />
<rect x="485.86" y="492" width="1" height="4" fill="#fff" />
<rect x="484.7" y="498.2" width="4.2" height="5.8" fill="#fff" />
<rect x="491.79" y="492" width="1" height="4" fill="#fff" />
<rect x="490.6" y="498.2" width="4.2" height="5.8" fill="#fff" />
<rect x="497.72" y="492" width="1" height="4" fill="#fff" />
<rect x="496.5" y="498.2" width="4.2" height="5.8" fill="#fff" />
<rect x="503.65" y="492" width="1" height="4" fill="#fff" />
<rect x="502.4" y="498.2" width="4.2" height="5.8" fill="#fff" />
<rect x="509.58" y="492" width="1" height="4" fill="#fff" />
<rect x="508.3" y="498.2" width="4.2" height="5.8" fill="#fff" />
<rect x="515.51" y="492" width="1" height="4" fill="#fff" />
<rect x="514.2" y="498.2" width="4.2" height="5.8" fill="#fff" />
<rect x="521.44" y="492" width="1" height="4" fill="#fff" />
<rect x="520.1" y="498.2" width="4.2" height="5.8" fill="#fff" />
<rect x="527.37" y="492" width="1" height="4" fill="#fff" />
<rect x="526" y="498.2" width="4.2" height="5.8" fill="#fff" />
<rect x="533.3" y="492" width="1" height="4" fill="#fff" />
<rect x="531.9" y="498.2" width="4.2" height="5.8" fill="#fff" />
<rect x="539.23" y="492" width="1" height="4" fill="#fff" />
<rect x="537.8" y="498.2" width="4.2" height="5.8" fill="#fff" />
<rect x="545.16" y="492" width="1" height="4" fill="#fff" />
<rect x="543.7" y="498.2" width="4.2" height="5.8" fill="#fff" />
<rect x="551.09" y="492" width="1" height="4" fill="#fff" />
<rect x="549.6" y="498.2" width="4.2" height="5.8" fill="#fff" />
<rect x="557.02" y="492" width="1" height="4" fill="#fff" />
<rect x="555.5" y="498.2" width="4.2" height="5.8" fill="#fff" />
<rect x="562.95" y="492" width="1" height="4" fill="#fff" />
<rect x="561.4" y="498.2" width="4.2" height="5.8" fill="#fff" />
<rect x="568.88" y="492" width="1" height="4" fill="#fff" />
<rect x="567.3" y="498.2" width="4.2" height="5.8" fill="#fff" />
<rect x="574.81" y="492" width="1" height="4" fill="#fff" />
<rect x="573.2" y="498.2" width="4.2" height="5.8" fill="#fff" />
<rect x="580.74" y="492" width="1" height="4" fill="#fff" />
<rect x="579.1" y="498.2" width="4.2" height="5.8" fill="#fff" />
<rect x="586.67" y="492" width="1" height="4" fill="#fff" />
<rect x="585" y="498.2" width="4.2" height="5.8" fill="#fff" />
<rect x="592.6" y="492" width="1" height="4" fill="#fff" />
<rect x="590.9" y="498.2" width="4.2" height="5.8" fill="#fff" />
<rect x="598.53" y="492" width="1" height="4" fill="#fff" />
<rect x="596.8" y="498.2" width="4.2" height="5.8" fill="#fff" />
<rect x="604.46" y="492" width="1" height="4" fill="#fff" />
<rect x="602.7" y="498.2" width="4.2" height="5.8" fill="#fff" />
<rect x="610.39" y="492" width="1" height="4" fill="#fff" />
<rect x="608.6" y="498.2" width="4.2" height="5.8" fill="#fff" />
<rect x="616.32" y="492" width="1" height="4" fill="#fff" />
<rect x="614.5" y="498.2" width="4.2" height="5.8" fill="#fff" />
<rect x="622.25" y="492" width="1" height="4" fill="#fff" />
<rect x="620.4" y="498.2" width="4.2" height="5.8" fill="#fff" />
<rect x="628.18" y="492" width="1" height="4" fill="#fff" />
<rect x="626.3" y="498.2" width="4.2" height="5.8" fill="#fff" />
<rect x="634.11" y="492" width="1" height="4" fill="#fff" />
<rect x="632.2" y="498.2" width="4.2" height="5.8" fill="#fff" />
<rect x="640.04" y="492" width="1" height="4" fill="#fff" />
<rect x="638.1" y="498.2" width="4.2" height="5.8" fill="#fff" />
<rect x="649" y="494.2" width="10.4" height="10.4" fill="#000" />
<rect x="650.1" y="495.3" width="9.3" height="8.2" fill="#fff" />
<rect x="651.3" y="489" width="1" height="8.7" fill="#000" />
<rect x="652.3" y="494" width="3.6" height="1.5" fill="#fff" />
<rect x="651.3" y="496.7" width="5.7" height="1.1" fill="#000" />
<rect x="655.9" y="494.2" width="1.1" height="3.6" fill="#000" />
<rect x="659.2" y="489" width="3.3" height="16.8" fill="#000" />
<rect x="662.5" y="495.8" width="8" height="1.1" fill="#000" />
<rect x="662.5" y="503" width="8" height="1.2" fill="#000" />
</g>
<g shape-rendering="crispEdges">
<rect x="714" y="396" width="25" height="112" fill="#000" />
<rect x="715" y="397" width="23" height="110" fill="#fff" />
<rect x="719" y="396" width="4" height="1" fill="#fff" />
<rect x="717" y="396" width="1" height="4" fill="#000" />
<rect x="724" y="396" width="1" height="4" fill="#000" />
<rect x="717" y="399" width="8" height="1" fill="#000" />
<rect x="719" y="397" width="1" height="2" fill="#000" />
<rect x="722" y="397" width="1" height="2" fill="#000" />
<rect x="719" y="507" width="4" height="1" fill="#fff" />
<rect x="717" y="504" width="1" height="4" fill="#000" />
<rect x="724" y="504" width="1" height="4" fill="#000" />
<rect x="717" y="504" width="8" height="1" fill="#000" />
<rect x="719" y="505" width="1" height="2" fill="#000" />
<rect x="722" y="505" width="1" height="2" fill="#000" />
<rect x="717" y="402" width="8" height="6.8" fill="#000" />
<rect x="718" y="403" width="6" height="4.8" fill="#fff" />
<rect x="717" y="411.9" width="8" height="6.8" fill="#000" />
<rect x="718" y="412.9" width="6" height="4.8" fill="#fff" />
<rect x="717" y="421.1" width="8" height="6.8" fill="#000" />
<rect x="718" y="422.1" width="6" height="4.8" fill="#fff" />
<rect x="717" y="430.4" width="8" height="6.8" fill="#000" />
<rect x="718" y="431.4" width="6" height="4.8" fill="#fff" />
<rect x="717" y="440" width="8" height="6.8" fill="#000" />
<rect x="718" y="441" width="6" height="4.8" fill="#fff" />
<rect x="717" y="449.5" width="8" height="6.8" fill="#000" />
<rect x="718" y="450.5" width="6" height="4.8" fill="#fff" />
<rect x="717" y="458.5" width="8" height="6.8" fill="#000" />
<rect x="718" y="459.5" width="6" height="4.8" fill="#fff" />
<rect x="717" y="467.5" width="8" height="6.8" fill="#000" />
<rect x="718" y="468.5" width="6" height="4.8" fill="#fff" />
<rect x="717" y="476.6" width="8" height="6.8" fill="#000" />
<rect x="718" y="477.6" width="6" height="4.8" fill="#fff" />
<rect x="717" y="485.7" width="8" height="6.8" fill="#000" />
<rect x="718" y="486.7" width="6" height="4.8" fill="#fff" />
<rect x="717" y="496.6" width="8" height="6.8" fill="#000" />
<rect x="718" y="497.6" width="6" height="4.8" fill="#fff" />
<rect x="726.1" y="398.1" width="1.9" height="6.2" fill="#000" />
<rect x="732.2" y="398.1" width="2.7" height="6.2" fill="#000" />
<rect x="733" y="399.1" width="1.2" height="4.3" fill="#fff" />
<rect x="734.9" y="399.6" width="1.1" height="3" fill="#000" />
<rect x="731" y="400.3" width="1.2" height="2.4" fill="#000" />
<rect x="726.1" y="407.2" width="1.9" height="6.2" fill="#000" />
<rect x="732.2" y="407.2" width="2.7" height="6.2" fill="#000" />
<rect x="733" y="408.2" width="1.2" height="4.3" fill="#fff" />
<rect x="734.9" y="408.7" width="1.1" height="3" fill="#000" />
<rect x="731" y="409.4" width="1.2" height="2.4" fill="#000" />
<rect x="726.1" y="416.4" width="1.9" height="6.2" fill="#000" />
<rect x="732.2" y="416.4" width="2.7" height="6.2" fill="#000" />
<rect x="733" y="417.4" width="1.2" height="4.3" fill="#fff" />
<rect x="734.9" y="417.9" width="1.1" height="3" fill="#000" />
<rect x="731" y="418.6" width="1.2" height="2.4" fill="#000" />
<rect x="726.1" y="426" width="1.9" height="6.2" fill="#000" />
<rect x="732.2" y="426" width="2.7" height="6.2" fill="#000" />
<rect x="733" y="427" width="1.2" height="4.3" fill="#fff" />
<rect x="734.9" y="427.5" width="1.1" height="3" fill="#000" />
<rect x="731" y="428.2" width="1.2" height="2.4" fill="#000" />
<rect x="726.1" y="435.5" width="1.9" height="6.2" fill="#000" />
<rect x="732.2" y="435.5" width="2.7" height="6.2" fill="#000" />
<rect x="733" y="436.5" width="1.2" height="4.3" fill="#fff" />
<rect x="734.9" y="437" width="1.1" height="3" fill="#000" />
<rect x="731" y="437.7" width="1.2" height="2.4" fill="#000" />
<rect x="726.1" y="444.3" width="1.9" height="6.2" fill="#000" />
<rect x="732.2" y="444.3" width="2.7" height="6.2" fill="#000" />
<rect x="733" y="445.3" width="1.2" height="4.3" fill="#fff" />
<rect x="734.9" y="445.8" width="1.1" height="3" fill="#000" />
<rect x="731" y="446.5" width="1.2" height="2.4" fill="#000" />
<rect x="726.1" y="453.8" width="1.9" height="6.2" fill="#000" />
<rect x="732.2" y="453.8" width="2.7" height="6.2" fill="#000" />
<rect x="733" y="454.8" width="1.2" height="4.3" fill="#fff" />
<rect x="734.9" y="455.3" width="1.1" height="3" fill="#000" />
<rect x="731" y="456" width="1.2" height="2.4" fill="#000" />
<rect x="726.1" y="462.5" width="1.9" height="6.2" fill="#000" />
<rect x="732.2" y="462.5" width="2.7" height="6.2" fill="#000" />
<rect x="733" y="463.5" width="1.2" height="4.3" fill="#fff" />
<rect x="734.9" y="464" width="1.1" height="3" fill="#000" />
<rect x="731" y="464.7" width="1.2" height="2.4" fill="#000" />
<rect x="726.1" y="471.9" width="1.9" height="6.2" fill="#000" />
<rect x="732.2" y="471.9" width="2.7" height="6.2" fill="#000" />
<rect x="733" y="472.9" width="1.2" height="4.3" fill="#fff" />
<rect x="734.9" y="473.4" width="1.1" height="3" fill="#000" />
<rect x="731" y="474.1" width="1.2" height="2.4" fill="#000" />
<rect x="726.1" y="481.3" width="1.9" height="6.2" fill="#000" />
<rect x="732.2" y="481.3" width="2.7" height="6.2" fill="#000" />
<rect x="733" y="482.3" width="1.2" height="4.3" fill="#fff" />
<rect x="734.9" y="482.8" width="1.1" height="3" fill="#000" />
<rect x="731" y="483.5" width="1.2" height="2.4" fill="#000" />
<rect x="726.1" y="490.7" width="1.9" height="6.2" fill="#000" />
<rect x="732.2" y="490.7" width="2.7" height="6.2" fill="#000" />
<rect x="733" y="491.7" width="1.2" height="4.3" fill="#fff" />
<rect x="734.9" y="492.2" width="1.1" height="3" fill="#000" />
<rect x="731" y="492.9" width="1.2" height="2.4" fill="#000" />
<rect x="726.1" y="500.1" width="1.9" height="6.2" fill="#000" />
<rect x="732.2" y="500.1" width="2.7" height="6.2" fill="#000" />
<rect x="733" y="501.1" width="1.2" height="4.3" fill="#fff" />
<rect x="734.9" y="501.6" width="1.1" height="3" fill="#000" />
<rect x="731" y="502.3" width="1.2" height="2.4" fill="#000" />
<rect x="730" y="397" width="1.2" height="110" fill="#000" />
</g>
<g shape-rendering="crispEdges">
<rect x="755" y="432" width="25" height="38" fill="#000" />
<rect x="779" y="428" width="4" height="45.5" fill="#000" />
<rect x="782" y="426" width="4" height="50" fill="#000" />
<rect x="748" y="441" width="7" height="8" fill="#000" />
<rect x="749" y="442" width="3" height="6" fill="#fff" />
<rect x="748" y="452" width="7" height="9" fill="#000" />
<rect x="749" y="453" width="3" height="7" fill="#fff" />
<rect x="753" y="442.5" width="2" height="1" fill="#fff" />
<rect x="753" y="454.5" width="2" height="1" fill="#fff" />
<rect x="753" y="444.5" width="2" height="1" fill="#fff" />
<rect x="753" y="456.5" width="2" height="1" fill="#fff" />
<rect x="753" y="446.5" width="2" height="1" fill="#fff" />
<rect x="753" y="458.5" width="2" height="1" fill="#fff" />
<rect x="752" y="449.5" width="3" height="2" fill="#fff" />
</g>
<g shape-rendering="crispEdges">
<rect x="11" y="78" width="7" height="31" fill="#000" />
<rect x="12" y="79" width="5" height="29" fill="#fff" />
<rect x="13" y="81" width="3" height="3" fill="#000" />
<rect x="14" y="82" width="1" height="1" fill="#fff" />
<rect x="12" y="86" width="3.7" height="3.9" fill="#000" />
<rect x="12" y="91.2" width="3.7" height="3.9" fill="#000" />
<rect x="12" y="97.2" width="3.7" height="3.9" fill="#000" />
<rect x="12" y="103.2" width="3.7" height="3.9" fill="#000" />
<rect x="11" y="131" width="7" height="13.8" fill="#000" />
<rect x="13" y="132.2" width="4" height="1" fill="#fff" />
<rect x="12" y="137.8" width="5" height="1" fill="#fff" />
<rect x="13" y="142.6" width="4" height="1" fill="#fff" />
<rect x="11" y="160" width="7" height="13.8" fill="#000" />
<rect x="13" y="161.2" width="4" height="1" fill="#fff" />
<rect x="12" y="166.8" width="5" height="1" fill="#fff" />
<rect x="13" y="171.6" width="4" height="1" fill="#fff" />
<rect x="11" y="182" width="7" height="13.8" fill="#000" />
<rect x="13" y="183.2" width="4" height="1" fill="#fff" />
<rect x="12" y="188.8" width="5" height="1" fill="#fff" />
<rect x="13" y="193.6" width="4" height="1" fill="#fff" />
<rect x="11" y="206" width="7" height="13.8" fill="#000" />
<rect x="13" y="207.2" width="4" height="1" fill="#fff" />
<rect x="12" y="212.8" width="5" height="1" fill="#fff" />
<rect x="13" y="217.6" width="4" height="1" fill="#fff" />
<rect x="11" y="238" width="7" height="13" fill="#000" />
<rect x="12.3" y="239.4" width="1" height="10.3" fill="#fff" />
<rect x="12.3" y="239.4" width="4.7" height="1" fill="#fff" />
<rect x="12.3" y="244.8" width="4.7" height="0.9" fill="#fff" />
<rect x="11" y="262" width="14" height="6.8" fill="#000" />
<rect x="12.3" y="263" width="0.9" height="4.8" fill="#fff" />
<rect x="12.3" y="266.8" width="11.5" height="1" fill="#fff" />
<rect x="23" y="263" width="0.8" height="4.8" fill="#fff" />
<rect x="17.9" y="263" width="0.8" height="4.5" fill="#fff" />
<rect x="11" y="282" width="19" height="6.8" fill="#000" />
<rect x="12" y="283" width="1.1" height="5" fill="#fff" />
<rect x="14" y="284" width="2" height="3" fill="#eee" />
<rect x="17" y="283" width="2.2" height="5" fill="#fff" />
<rect x="23" y="283" width="1.3" height="5" fill="#fff" />
<rect x="11" y="301" width="19" height="6.8" fill="#000" />
<rect x="12" y="302" width="1" height="5" fill="#fff" />
<rect x="12" y="306" width="16.5" height="1" fill="#fff" />
<rect x="13.7" y="302.7" width="2.6" height="2.6" fill="#fff" />
<rect x="14.6" y="303.6" width="0.9" height="0.9" fill="#000" />
<rect x="18" y="302" width="1" height="3" fill="#fff" />
<rect x="23" y="302" width="1.3" height="3.3" fill="#fff" />
<rect x="11" y="326" width="19" height="6.8" fill="#000" />
<rect x="12" y="327" width="1.1" height="5" fill="#fff" />
<rect x="14" y="328" width="2" height="3" fill="#eee" />
<rect x="17" y="327" width="2.2" height="5" fill="#fff" />
<rect x="23" y="327" width="1.3" height="5" fill="#fff" />
<rect x="11" y="341.2" width="19" height="6.8" fill="#000" />
<rect x="12" y="342.2" width="1.1" height="5" fill="#fff" />
<rect x="14" y="343.2" width="2" height="3" fill="#eee" />
<rect x="17" y="342.2" width="2.2" height="5" fill="#fff" />
<rect x="23" y="342.2" width="1.3" height="5" fill="#fff" />
<rect x="11" y="357.1" width="19" height="6.8" fill="#000" />
<rect x="12" y="358.1" width="1.1" height="5" fill="#fff" />
<rect x="14" y="359.1" width="2" height="3" fill="#eee" />
<rect x="17" y="358.1" width="2.2" height="5" fill="#fff" />
<rect x="23" y="358.1" width="1.3" height="5" fill="#fff" />
<rect x="198" y="83" width="7" height="19.5" fill="#000" />
<rect x="199" y="84" width="5" height="17.5" fill="#fff" />
<rect x="200.3" y="85.3" width="2.6" height="3" fill="#000" />
<rect x="201" y="86" width="1.2" height="1.4" fill="#fff" />
<rect x="199" y="89.5" width="5" height="1" fill="#000" />
<rect x="200" y="91.5" width="4" height="4" fill="#000" />
<rect x="200" y="97" width="4" height="3.5" fill="#000" />
<rect x="199" y="95.8" width="1" height="4.7" fill="#fff" />
<rect x="176" y="113" width="13" height="6.6" fill="#000" />
<rect x="181.6" y="114" width="1.3" height="4.6" fill="#fff" />
<rect x="185.6" y="114" width="1.3" height="4.6" fill="#fff" />
<rect x="357" y="230" width="6" height="12.7" fill="#000" />
<rect x="358" y="236" width="4" height="1" fill="#fff" />
<rect x="358" y="240.5" width="4" height="1" fill="#fff" />
<rect x="361" y="18" width="7" height="12.7" fill="#000" />
<rect x="362" y="23.7" width="4.5" height="1" fill="#fff" />
<rect x="361" y="41" width="7" height="13.7" fill="#000" />
<rect x="362" y="42.6" width="5" height="1" fill="#fff" />
<rect x="362" y="48" width="5" height="1" fill="#fff" />
<rect x="362" y="52.4" width="5" height="1" fill="#fff" />
<rect x="759" y="305" width="14" height="6.7" fill="#000" />
<rect x="761" y="306" width="1.3" height="4.7" fill="#fff" />
<rect x="764.8" y="306" width="1.3" height="4.7" fill="#fff" />
<rect x="769.3" y="306" width="1.5" height="4.7" fill="#fff" />
<rect x="766" y="356" width="6.2" height="25.7" fill="#000" />
<rect x="767" y="357" width="4.2" height="5" fill="#fff" />
<rect x="768" y="358" width="3" height="3" fill="#000" />
<rect x="769" y="359" width="1" height="1" fill="#fff" />
<rect x="767" y="363" width="4.2" height="1.2" fill="#fff" />
<rect x="767" y="368" width="4.2" height="1.2" fill="#fff" />
<rect x="767" y="374" width="4.2" height="1.2" fill="#fff" />
<rect x="767" y="379.3" width="4.2" height="1.8" fill="#fff" />
</g>
<rect x="33" y="85" width="26" height="18" rx="3.2" fill="#000"/>
<polygon points="35,88.4 33.3,88.6 32.5,89.7 26.5,91.55 21.5,92.5 18,92.75 18,94.45 21.5,94.75 26.5,95.75 32.5,97.6 33.3,98.6 35,98.8" fill="#000" />
<rect x="34.9" y="86.9" width="21.700000000000003" height="13.8" rx="1.4" fill="#fff"/>
<polygon points="35.6,91 27,93.5 27,93.7 35.6,96.2" fill="#fff" />
<text filter="url(#bw)" transform="translate(38.53,97.5) scale(0.82,1)" font-size="13.2" letter-spacing="1.30" >J1</text>
<rect x="33" y="128" width="26" height="19" rx="3.2" fill="#000"/>
<polygon points="35,132.1 33.3,132.3 32.5,133.4 26.5,135.25 21.5,136.2 18,136.45 18,138.15 21.5,138.45 26.5,139.45 32.5,141.3 33.3,142.3 35,142.5" fill="#000" />
<rect x="34.9" y="129.9" width="21.700000000000003" height="14.8" rx="1.4" fill="#fff"/>
<polygon points="35.6,134.7 27,137.2 27,137.4 35.6,139.9" fill="#fff" />
<text filter="url(#bw)" transform="translate(37.83,141) scale(0.82,1)" font-size="13.2" letter-spacing="1.69" >J2</text>
<rect x="33" y="158" width="26" height="18" rx="3.2" fill="#000"/>
<polygon points="35,161.5 33.3,161.7 32.5,162.8 26.5,164.65 21.5,165.6 18,165.85 18,167.55 21.5,167.85 26.5,168.85 32.5,170.7 33.3,171.7 35,171.9" fill="#000" />
<rect x="34.9" y="159.9" width="21.700000000000003" height="13.8" rx="1.4" fill="#fff"/>
<polygon points="35.6,164.1 27,166.6 27,166.8 35.6,169.3" fill="#fff" />
<text filter="url(#bw)" transform="translate(37.73,169.8) scale(0.82,1)" font-size="13.2" letter-spacing="1.60" >J3</text>
<rect x="33" y="180.2" width="26" height="18.600000000000023" rx="3.2" fill="#000"/>
<polygon points="35,184 33.3,184.2 32.5,185.3 26.5,187.15 21.5,188.1 18,188.35 18,190.05 21.5,190.35 26.5,191.35 32.5,193.2 33.3,194.2 35,194.4" fill="#000" />
<rect x="34.9" y="182.1" width="21.700000000000003" height="14.400000000000023" rx="1.4" fill="#fff"/>
<polygon points="35.6,186.6 27,189.1 27,189.3 35.6,191.8" fill="#fff" />
<text filter="url(#bw)" transform="translate(37.73,192.4) scale(0.82,1)" font-size="13.2" letter-spacing="1.77" >J4</text>
<rect x="33" y="204.2" width="26" height="18.600000000000023" rx="3.2" fill="#000"/>
<polygon points="35,208.3 33.3,208.5 32.5,209.6 26.5,211.45 21.5,212.4 18,212.65 18,214.35 21.5,214.65 26.5,215.65 32.5,217.5 33.3,218.5 35,218.7" fill="#000" />
<rect x="34.9" y="206.1" width="21.700000000000003" height="14.400000000000023" rx="1.4" fill="#fff"/>
<polygon points="35.6,210.9 27,213.4 27,213.6 35.6,216.1" fill="#fff" />
<text filter="url(#bw)" transform="translate(37.73,216.4) scale(0.82,1)" font-size="13.2" letter-spacing="1.82" >J5</text>
<rect x="34" y="236" width="36" height="18" rx="3.2" fill="#000"/>
<polygon points="36,239.8 34.3,240 33.5,241.1 27.5,242.95 22.5,243.9 19,244.15 19,245.85 22.5,246.15 27.5,247.15 33.5,249 34.3,250 36,250.2" fill="#000" />
<rect x="35.9" y="237.9" width="31.700000000000003" height="13.8" rx="1.4" fill="#fff"/>
<polygon points="36.6,242.4 28,244.9 28,245.1 36.6,247.6" fill="#fff" />
<text filter="url(#bw)" transform="translate(40.73,248.1) scale(0.82,1)" font-size="13.2" letter-spacing="0.94" >JP1</text>
<rect x="41" y="256.2" width="36" height="17.5" rx="3.2" fill="#000"/>
<polygon points="43,259.7 41.3,259.9 40.5,261 34.5,262.85 29.5,263.8 26,264.05 26,265.75 29.5,266.05 34.5,267.05 40.5,268.9 41.3,269.9 43,270.1" fill="#000" />
<rect x="42.9" y="258.09999999999997" width="31.700000000000003" height="13.3" rx="1.4" fill="#fff"/>
<polygon points="43.6,262.3 35,264.8 35,265 43.6,267.5" fill="#fff" />
<text filter="url(#bw)" transform="translate(46.83,268.6) scale(0.82,1)" font-size="13.2" letter-spacing="2.17" >JP2</text>
<rect x="45" y="275" width="37" height="19" rx="3.2" fill="#000"/>
<polygon points="47,279.8 45.3,280 44.5,281.1 39.5,282.95 34.5,283.9 31,284.15 31,285.85 34.5,286.15 39.5,287.15 44.5,289 45.3,290 47,290.2" fill="#000" />
<rect x="47.4" y="277.9" width="31.8" height="13.8" rx="1.4" fill="#fff"/>
<polygon points="47.6,282.4 40,284.9 40,285.1 47.6,287.6" fill="#fff" />
<text filter="url(#bw)" transform="translate(51.83,287.7) scale(0.82,1)" font-size="13.2" letter-spacing="1.34" >JP3</text>
<rect x="45" y="295.3" width="37" height="18.5" rx="3.2" fill="#000"/>
<polygon points="47,299 45.3,299.2 44.5,300.3 40,302.15 35,303.1 31.5,303.35 31.5,305.05 35,305.35 40,306.35 44.5,308.2 45.3,309.2 47,309.4" fill="#000" />
<rect x="46.9" y="297.2" width="32.7" height="14.3" rx="1.4" fill="#fff"/>
<polygon points="47.6,301.6 40.5,304.1 40.5,304.3 47.6,306.8" fill="#fff" />
<text filter="url(#bw)" transform="translate(51.83,307.4) scale(0.82,1)" font-size="13.2" letter-spacing="1.30" >JP4</text>
<rect x="46" y="319.3" width="36" height="18.5" rx="3.2" fill="#000"/>
<polygon points="48,324.1 46.3,324.3 45.5,325.4 39.5,327.25 34.5,328.2 31,328.45 31,330.15 34.5,330.45 39.5,331.45 45.5,333.3 46.3,334.3 48,334.5" fill="#000" />
<rect x="47.9" y="321.2" width="31.700000000000003" height="14.3" rx="1.4" fill="#fff"/>
<polygon points="48.6,326.7 40,329.2 40,329.4 48.6,331.9" fill="#fff" />
<text filter="url(#bw)" transform="translate(51.83,331.4) scale(0.82,1)" font-size="13.2" letter-spacing="1.32" >JP5</text>
<rect x="35.8" y="352" width="35.400000000000006" height="18.30000000000001" rx="3.2" fill="#000"/>
<polygon points="35.8,358 35.8,354.5 33,350.5 28.6,346.8 28.8,344.4 30.5,344.2 33.5,346.6 38,350.5 42,352 42,355" fill="#000" />
<rect x="38.3" y="353.9" width="30.100000000000005" height="13.600000000000012" rx="1.4" fill="#fff"/>
<polygon points="38.3,356 38.3,354 36.6,351.6 38.4,352.8 40.5,353.9" fill="#fff" />
<text filter="url(#bw)" transform="translate(40.73,364.6) scale(0.82,1)" font-size="13.2" letter-spacing="2.25" >JP6</text>
<rect x="27.2" y="371.3" width="34.599999999999994" height="18.19999999999999" rx="3.2" fill="#000"/>
<polygon points="27.2,378 27.2,374.5 25.2,370.5 21,367 20.6,364.8 22,364.3 25.5,367 30,370 34,371.3 34,374" fill="#000" />
<rect x="29.7" y="373.2" width="29.499999999999993" height="13.69999999999999" rx="1.4" fill="#fff"/>
<polygon points="29.7,375.5 29.7,373.4 28.2,371 30,372.2 32,373.2" fill="#fff" />
<text filter="url(#bw)" transform="translate(32.63,383.7) scale(0.82,1)" font-size="13.2" letter-spacing="1.56" >JP7</text>
<rect x="147" y="84" width="36" height="19" rx="3.2" fill="#000"/>
<polygon points="181,87.7 182.7,87.9 183.5,89 189.5,90.85 194.5,91.8 198,92.05 198,93.75 194.5,94.05 189.5,95.05 183.5,96.9 182.7,97.9 181,98.1" fill="#000" />
<rect x="148.9" y="85.9" width="31.700000000000003" height="14.8" rx="1.4" fill="#fff"/>
<polygon points="180.4,90.3 189,92.8 189,93 180.4,95.5" fill="#fff" />
<text filter="url(#bw)" transform="translate(152.83,96.8) scale(0.82,1)" font-size="13.2" letter-spacing="2.13" >JP8</text>
<rect x="123" y="107" width="36" height="19" rx="3.2" fill="#000"/>
<polygon points="157,111.3 158.7,111.5 159.5,112.6 167,114.45 172,115.4 175.5,115.65 175.5,117.35 172,117.65 167,118.65 159.5,120.5 158.7,121.5 157,121.7" fill="#000" />
<rect x="124.9" y="108.9" width="31.700000000000003" height="14.8" rx="1.4" fill="#fff"/>
<polygon points="156.4,113.9 166.5,116.4 166.5,116.6 156.4,119.1" fill="#fff" />
<text filter="url(#bw)" transform="translate(128.83,119.5) scale(0.82,1)" font-size="13.2" letter-spacing="2.09" >JP9</text>
<rect x="299" y="226.8" width="42" height="19.0" rx="3.2" fill="#000"/>
<polygon points="339,231 340.7,231.2 341.5,232.3 348,234.15 353,235.1 356.5,235.35 356.5,237.05 353,237.35 348,238.35 341.5,240.2 340.7,241.2 339,241.4" fill="#000" />
<rect x="300.9" y="228.70000000000002" width="37.7" height="14.8" rx="1.4" fill="#fff"/>
<polygon points="338.4,233.6 347.5,236.1 347.5,236.3 338.4,238.8" fill="#fff" />
<text filter="url(#bw)" transform="translate(304.63,240) scale(0.82,1)" font-size="13.2" letter-spacing="1.92" >JP10</text>
<rect x="383" y="15" width="42" height="19" rx="3.2" fill="#000"/>
<polygon points="385,18.6 383.3,18.8 382.5,19.9 377,21.75 372,22.7 368.5,22.95 368.5,24.65 372,24.95 377,25.95 382.5,27.8 383.3,28.8 385,29" fill="#000" />
<rect x="384.9" y="16.9" width="37.7" height="14.8" rx="1.4" fill="#fff"/>
<polygon points="385.6,21.2 377.5,23.7 377.5,23.9 385.6,26.4" fill="#fff" />
<text filter="url(#bw)" transform="translate(388.73,27.7) scale(0.82,1)" font-size="13.2" letter-spacing="1.56" >JP11</text>
<rect x="383" y="39.1" width="42" height="18.4" rx="3.2" fill="#000"/>
<polygon points="385,43.2 383.3,43.4 382.5,44.5 377,46.35 372,47.3 368.5,47.55 368.5,49.25 372,49.55 377,50.55 382.5,52.4 383.3,53.4 385,53.6" fill="#000" />
<rect x="384.9" y="41.0" width="37.7" height="14.2" rx="1.4" fill="#fff"/>
<polygon points="385.6,45.8 377.5,48.3 377.5,48.5 385.6,51" fill="#fff" />
<text filter="url(#bw)" transform="translate(387.73,51.7) scale(0.82,1)" font-size="13.2" letter-spacing="2.17" >JP12</text>
<rect x="702" y="299" width="42" height="19" rx="3.2" fill="#000"/>
<polygon points="742,303 743.7,303.2 744.5,304.3 750,306.15 755,307.1 758.5,307.35 758.5,309.05 755,309.35 750,310.35 744.5,312.2 743.7,313.2 742,313.4" fill="#000" />
<rect x="703.9" y="300.9" width="37.7" height="14.8" rx="1.4" fill="#fff"/>
<polygon points="741.4,305.6 749.5,308.1 749.5,308.3 741.4,310.8" fill="#fff" />
<text filter="url(#bw)" transform="translate(707.43,311.7) scale(0.82,1)" font-size="13.2" letter-spacing="1.94" >JP13</text>
<rect x="725" y="360.2" width="26" height="17.80000000000001" rx="3.2" fill="#000"/>
<polygon points="749,363.7 750.7,363.9 751.5,365 757.5,366.85 762.5,367.8 766,368.05 766,369.75 762.5,370.05 757.5,371.05 751.5,372.9 750.7,373.9 749,374.1" fill="#000" />
<rect x="726.9" y="362.09999999999997" width="21.700000000000003" height="13.600000000000012" rx="1.4" fill="#fff"/>
<polygon points="748.4,366.3 757,368.8 757,369 748.4,371.5" fill="#fff" />
<text filter="url(#bw)" transform="translate(729.83,371.8) scale(0.82,1)" font-size="13.2" letter-spacing="1.72" >J6</text>
<path d="M330 366.5 L336.5 372 V415.7 L340.7 419.4 L336.5 423 V466.5 L330 472" fill="none" stroke="#000" stroke-width="1"/>
<rect x="343" y="411" width="51" height="19" rx="3.2" fill="#000"/>
<rect x="344.9" y="412.9" width="46.5" height="14.3" rx="1.4" fill="#fff"/>
<text filter="url(#bw)" transform="translate(346.46,423.8) scale(0.8,1)" font-size="13.2" letter-spacing="2.35" >CACHE</text>
<rect x="293" y="30" width="40" height="15" rx="2.2" fill="#fff"/>
<text filter="url(#bw)" transform="translate(297.33,41.7) scale(0.8,1)" font-size="13.2" letter-spacing="2.17" >BIOS</text>
<rect x="318" y="77" width="28" height="15" rx="2.2" fill="#fff"/>
<text filter="url(#bw)" transform="translate(320.03,87.6) scale(0.8,1)" font-size="13.2" letter-spacing="2.22" >KBD</text>
<rect x="139" y="295" width="28" height="15" rx="1.5" fill="#fff"/>
<text filter="url(#bw)" transform="translate(139.46,306.9) scale(0.8,1)" font-size="13.2" letter-spacing="2.66" >CPU</text>
<rect x="148.2" y="161" width="32.8" height="18" rx="2.5" fill="#000"/>
<rect x="150.2" y="163" width="28.8" height="13.5" rx="1.5" fill="#fff"/>
<text filter="url(#bw)" transform="translate(151.03,173.7) scale(0.8,1)" font-size="13.2" letter-spacing="2.62" >NPU</text>
<rect x="168" y="410.6" width="60.2" height="18.2" fill="#000" shape-rendering="crispEdges"/>
<rect x="170" y="412.6" width="56.19999999999999" height="14.199999999999989" rx="0" fill="#fff"/>
<text filter="url(#bw)" transform="translate(171.73,422.7) scale(0.8,1)" font-size="13.2" letter-spacing="2.40" >BANK 1</text>
<rect x="258.5" y="410.6" width="59.7" height="18.2" fill="#000" shape-rendering="crispEdges"/>
<rect x="260.5" y="412.6" width="55.69999999999999" height="14.199999999999989" rx="0" fill="#fff"/>
<text filter="url(#bw)" transform="translate(261.93,423.2) scale(0.8,1)" font-size="13.2" letter-spacing="2.48" >BANK 0</text>
<rect x="524" y="378.5" width="59" height="18.5" fill="#000" shape-rendering="crispEdges"/>
<rect x="526" y="380.5" width="55" height="14.5" rx="0" fill="#fff"/>
<text filter="url(#bw)" transform="translate(526.83,391.9) scale(0.8,1)" font-size="13.2" letter-spacing="2.68" >BANK 0</text>
<rect x="524" y="460" width="59" height="18" fill="#000" shape-rendering="crispEdges"/>
<rect x="526" y="462" width="55" height="14" rx="0" fill="#fff"/>
<text filter="url(#bw)" transform="translate(528.33,472.3) scale(0.8,1)" font-size="13.2" letter-spacing="2.60" >BANK 1</text>
<text filter="url(#bw)" transform="translate(623.43,45) scale(0.8,1)" font-size="11.8" letter-spacing="1.64" >MH0781</text>
</g>
</svg>
</body></html>
